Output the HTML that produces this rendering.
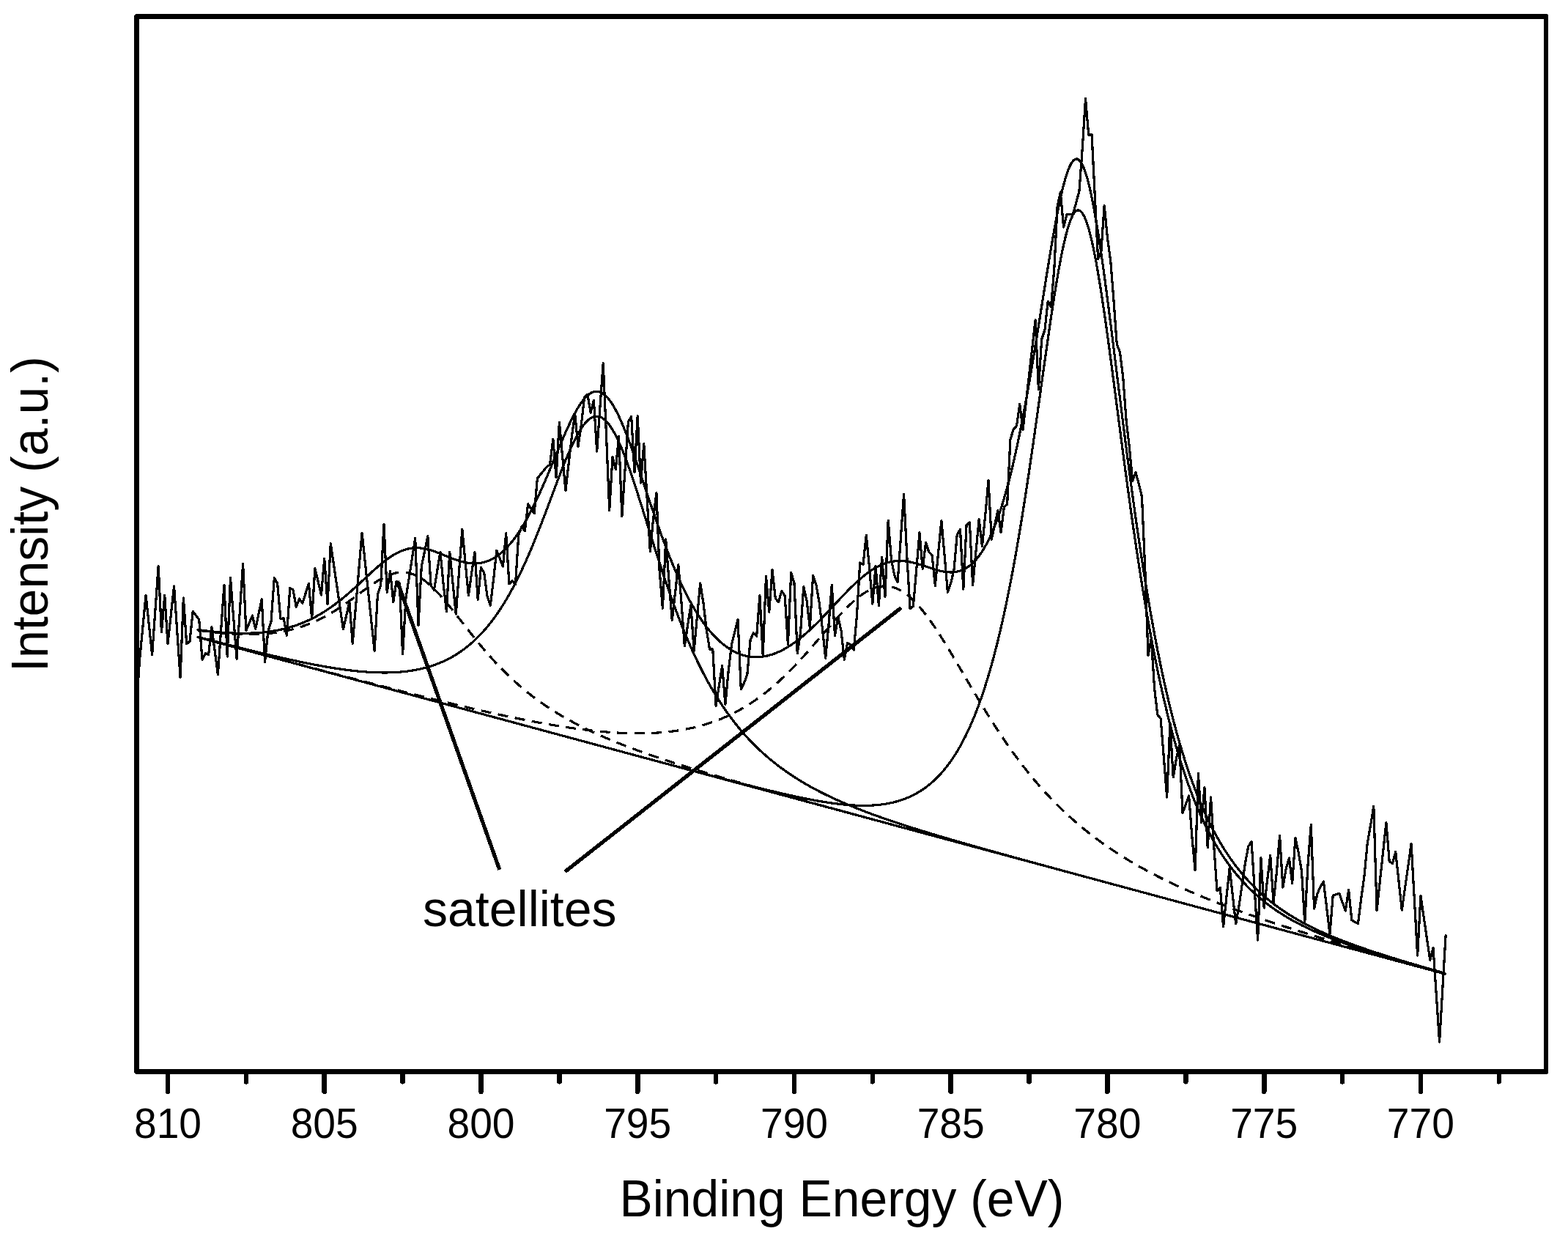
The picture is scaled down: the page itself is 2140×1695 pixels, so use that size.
<!DOCTYPE html>
<html><head><meta charset="utf-8"><title>XPS spectrum</title>
<style>
html,body{margin:0;padding:0;background:#fff;}
svg{display:block;}
</style></head>
<body>
<svg xmlns="http://www.w3.org/2000/svg" width="2140" height="1695" viewBox="0 0 2140 1695" shape-rendering="crispEdges">
<rect x="0" y="0" width="2140" height="1695" fill="#fff"/>
<g fill="none" stroke="#000" stroke-linejoin="round" stroke-linecap="round">
<path d="M270.0,869.70 L1972.0,1329.07" stroke-width="3.2"/>
<path d="M270.0,859.98 L272.0,860.27 L274.0,860.56 L276.0,860.84 L278.0,861.12 L280.0,861.39 L282.0,861.65 L284.0,861.91 L286.0,862.16 L288.0,862.40 L290.0,862.64 L292.0,862.87 L294.0,863.09 L296.0,863.31 L298.0,863.51 L300.0,863.71 L302.0,863.90 L304.0,864.09 L306.0,864.26 L308.0,864.43 L310.0,864.59 L312.0,864.73 L314.0,864.87 L316.0,865.00 L318.0,865.12 L320.0,865.23 L322.0,865.34 L324.0,865.43 L326.0,865.51 L328.0,865.58 L330.0,865.63 L332.0,865.68 L334.0,865.72 L336.0,865.74 L338.0,865.75 L340.0,865.75 L342.0,865.74 L344.0,865.72 L346.0,865.68 L348.0,865.63 L350.0,865.56 L352.0,865.48 L354.0,865.39 L356.0,865.29 L358.0,865.16 L360.0,865.03 L362.0,864.87 L364.0,864.71 L366.0,864.52 L368.0,864.32 L370.0,864.10 L372.0,863.87 L374.0,863.62 L376.0,863.35 L378.0,863.06 L380.0,862.76 L382.0,862.43 L384.0,862.09 L386.0,861.72 L388.0,861.34 L390.0,860.94 L392.0,860.51 L394.0,860.07 L396.0,859.60 L398.0,859.11 L400.0,858.60 L402.0,858.07 L404.0,857.51 L406.0,856.94 L408.0,856.33 L410.0,855.71 L412.0,855.06 L414.0,854.38 L416.0,853.68 L418.0,852.96 L420.0,852.21 L422.0,851.44 L424.0,850.64 L426.0,849.81 L428.0,848.96 L430.0,848.08 L432.0,847.17 L434.0,846.24 L436.0,845.28 L438.0,844.29 L440.0,843.28 L442.0,842.24 L444.0,841.17 L446.0,840.08 L448.0,838.96 L450.0,837.82 L452.0,836.65 L454.0,835.45 L456.0,834.23 L458.0,832.99 L460.0,831.72 L462.0,830.43 L464.0,829.11 L466.0,827.78 L468.0,826.42 L470.0,825.05 L472.0,823.66 L474.0,822.25 L476.0,820.82 L478.0,819.38 L480.0,817.93 L482.0,816.47 L484.0,815.00 L486.0,813.53 L488.0,812.05 L490.0,810.56 L492.0,809.08 L494.0,807.60 L496.0,806.13 L498.0,804.67 L500.0,803.21 L502.0,801.78 L504.0,800.36 L506.0,798.96 L508.0,797.58 L510.0,796.24 L512.0,794.93 L514.0,793.65 L516.0,792.41 L518.0,791.22 L520.0,790.07 L522.0,788.97 L524.0,787.93 L526.0,786.95 L528.0,786.03 L530.0,785.18 L532.0,784.39 L534.0,783.68 L536.0,783.05 L538.0,782.50 L540.0,782.03 L542.0,781.65 L544.0,781.36 L546.0,781.16 L548.0,781.05 L550.0,781.04 L552.0,781.12 L554.0,781.31 L556.0,781.59 L558.0,781.98 L560.0,782.47 L562.0,783.06 L564.0,783.75 L566.0,784.54 L568.0,785.43 L570.0,786.43 L572.0,787.52 L574.0,788.70 L576.0,789.98 L578.0,791.35 L580.0,792.81 L582.0,794.36 L584.0,795.99 L586.0,797.70 L588.0,799.48 L590.0,801.35 L592.0,803.28 L594.0,805.27 L596.0,807.34 L598.0,809.46 L600.0,811.63 L602.0,813.86 L604.0,816.13 L606.0,818.45 L608.0,820.80 L610.0,823.19 L612.0,825.62 L614.0,828.07 L616.0,830.55 L618.0,833.05 L620.0,835.56 L622.0,838.10 L624.0,840.64 L626.0,843.19 L628.0,845.75 L630.0,848.31 L632.0,850.87 L634.0,853.43 L636.0,855.99 L638.0,858.54 L640.0,861.08 L642.0,863.61 L644.0,866.13 L646.0,868.63 L648.0,871.12 L650.0,873.60 L652.0,876.05 L654.0,878.49 L656.0,880.90 L658.0,883.29 L660.0,885.67 L662.0,888.01 L664.0,890.34 L666.0,892.64 L668.0,894.92 L670.0,897.17 L672.0,899.39 L674.0,901.59 L676.0,903.76 L678.0,905.91 L680.0,908.03 L682.0,910.12 L684.0,912.19 L686.0,914.22 L688.0,916.24 L690.0,918.22 L692.0,920.18 L694.0,922.12 L696.0,924.02 L698.0,925.90 L700.0,927.76 L702.0,929.59 L704.0,931.39 L706.0,933.17 L708.0,934.93 L710.0,936.66 L712.0,938.36 L714.0,940.04 L716.0,941.70 L718.0,943.34 L720.0,944.95 L722.0,946.54 L724.0,948.11 L726.0,949.66 L728.0,951.18 L730.0,952.68 L732.0,954.17 L734.0,955.63 L736.0,957.07 L738.0,958.50 L740.0,959.90 L742.0,961.29 L744.0,962.66 L746.0,964.01 L748.0,965.34 L750.0,966.65 L752.0,967.95 L754.0,969.23 L756.0,970.49 L758.0,971.74 L760.0,972.97 L762.0,974.19 L764.0,975.39 L766.0,976.58 L768.0,977.75 L770.0,978.91 L772.0,980.05 L774.0,981.19 L776.0,982.30 L778.0,983.41 L780.0,984.50 L782.0,985.58 L784.0,986.65 L786.0,987.70 L788.0,988.75 L790.0,989.78 L792.0,990.80 L794.0,991.81 L796.0,992.81 L798.0,993.80 L800.0,994.78 L802.0,995.75 L804.0,996.71 L806.0,997.66 L808.0,998.60 L810.0,999.53 L812.0,1000.45 L814.0,1001.36 L816.0,1002.27 L818.0,1003.17 L820.0,1004.05 L822.0,1004.93 L824.0,1005.81 L826.0,1006.67 L828.0,1007.53 L830.0,1008.38 L832.0,1009.22 L834.0,1010.06 L836.0,1010.89 L838.0,1011.71 L840.0,1012.53 L842.0,1013.34 L844.0,1014.14 L846.0,1014.94 L848.0,1015.73 L850.0,1016.51 L852.0,1017.29 L854.0,1018.07 L856.0,1018.84 L858.0,1019.60 L860.0,1020.36 L862.0,1021.11 L864.0,1021.86 L866.0,1022.60 L868.0,1023.34 L870.0,1024.08 L872.0,1024.80 L874.0,1025.53 L876.0,1026.25 L878.0,1026.97 L880.0,1027.68 L882.0,1028.39 L884.0,1029.09 L886.0,1029.79 L888.0,1030.49 L890.0,1031.18 L892.0,1031.87 L894.0,1032.55 L896.0,1033.23 L898.0,1033.91 L900.0,1034.59 L902.0,1035.26 L904.0,1035.93 L906.0,1036.59 L908.0,1037.26 L910.0,1037.92 L912.0,1038.57 L914.0,1039.23 L916.0,1039.88 L918.0,1040.53 L920.0,1041.17 L922.0,1041.82 L924.0,1042.46 L926.0,1043.10 L928.0,1043.73 L930.0,1044.36 L932.0,1045.00 L934.0,1045.62 L936.0,1046.25 L938.0,1046.88 L940.0,1047.50 L942.0,1048.12 L944.0,1048.74 L946.0,1049.35 L948.0,1049.97 L950.0,1050.58 L952.0,1051.19 L954.0,1051.80 L956.0,1052.41 L958.0,1053.02 L960.0,1053.62 L962.0,1054.22 L964.0,1054.82 L966.0,1055.42 L968.0,1056.02 L970.0,1056.62 L972.0,1057.21 L974.0,1057.80 L976.0,1058.40 L978.0,1058.99 L980.0,1059.58 L982.0,1060.17 L984.0,1060.75 L986.0,1061.34 L988.0,1061.92 L990.0,1062.51 L992.0,1063.09 L994.0,1063.67 L996.0,1064.25 L998.0,1064.83 L1000.0,1065.41 L1002.0,1065.98 L1004.0,1066.56 L1006.0,1067.14 L1008.0,1067.71 L1010.0,1068.28 L1012.0,1068.85 L1014.0,1069.43 L1016.0,1070.00 L1018.0,1070.57 L1020.0,1071.14 L1022.0,1071.70 L1024.0,1072.27 L1026.0,1072.84 L1028.0,1073.40 L1030.0,1073.97 L1032.0,1074.53 L1034.0,1075.10 L1036.0,1075.66 L1038.0,1076.22 L1040.0,1076.79 L1042.0,1077.35 L1044.0,1077.91 L1046.0,1078.47 L1048.0,1079.03 L1050.0,1079.59 L1052.0,1080.15 L1054.0,1080.70 L1056.0,1081.26 L1058.0,1081.82 L1060.0,1082.38 L1062.0,1082.93 L1064.0,1083.49 L1066.0,1084.04 L1068.0,1084.60 L1070.0,1085.15 L1072.0,1085.71 L1074.0,1086.26 L1076.0,1086.81 L1078.0,1087.37 L1080.0,1087.92 L1082.0,1088.47 L1084.0,1089.02 L1086.0,1089.57 L1088.0,1090.12 L1090.0,1090.68 L1092.0,1091.23 L1094.0,1091.78 L1096.0,1092.33 L1098.0,1092.88 L1100.0,1093.42 L1102.0,1093.97 L1104.0,1094.52 L1106.0,1095.07 L1108.0,1095.62 L1110.0,1096.17 L1112.0,1096.71 L1114.0,1097.26 L1116.0,1097.81 L1118.0,1098.36 L1120.0,1098.90 L1122.0,1099.45 L1124.0,1100.00 L1126.0,1100.54 L1128.0,1101.09 L1130.0,1101.63 L1132.0,1102.18 L1134.0,1102.72 L1136.0,1103.27 L1138.0,1103.82 L1140.0,1104.36 L1142.0,1104.91 L1144.0,1105.45 L1146.0,1105.99 L1148.0,1106.54 L1150.0,1107.08 L1152.0,1107.63 L1154.0,1108.17 L1156.0,1108.71 L1158.0,1109.26 L1160.0,1109.80 L1162.0,1110.35 L1164.0,1110.89 L1166.0,1111.43 L1168.0,1111.97 L1170.0,1112.52 L1172.0,1113.06 L1174.0,1113.60 L1176.0,1114.15 L1178.0,1114.69 L1180.0,1115.23 L1182.0,1115.77 L1184.0,1116.32 L1186.0,1116.86 L1188.0,1117.40 L1190.0,1117.94 L1192.0,1118.48 L1194.0,1119.03 L1196.0,1119.57 L1198.0,1120.11 L1200.0,1120.65 L1202.0,1121.19 L1204.0,1121.74 L1206.0,1122.28 L1208.0,1122.82 L1210.0,1123.36 L1212.0,1123.90 L1214.0,1124.44 L1216.0,1124.98 L1218.0,1125.53 L1220.0,1126.07 L1222.0,1126.61 L1224.0,1127.15 L1226.0,1127.69 L1228.0,1128.23 L1230.0,1128.77 L1232.0,1129.31 L1234.0,1129.85 L1236.0,1130.39 L1238.0,1130.94 L1240.0,1131.48 L1242.0,1132.02 L1244.0,1132.56 L1246.0,1133.10 L1248.0,1133.64 L1250.0,1134.18 L1252.0,1134.72 L1254.0,1135.26 L1256.0,1135.80 L1258.0,1136.34 L1260.0,1136.88 L1262.0,1137.42 L1264.0,1137.96 L1266.0,1138.50 L1268.0,1139.04 L1270.0,1139.58 L1272.0,1140.13 L1274.0,1140.67 L1276.0,1141.21 L1278.0,1141.75 L1280.0,1142.29 L1282.0,1142.83 L1284.0,1143.37 L1286.0,1143.91 L1288.0,1144.45 L1290.0,1144.99 L1292.0,1145.53 L1294.0,1146.07 L1296.0,1146.61 L1298.0,1147.15 L1300.0,1147.69 L1302.0,1148.23 L1304.0,1148.77 L1306.0,1149.31 L1308.0,1149.85 L1310.0,1150.39 L1312.0,1150.93 L1314.0,1151.47 L1316.0,1152.01 L1318.0,1152.55 L1320.0,1153.09 L1322.0,1153.63 L1324.0,1154.17 L1326.0,1154.71 L1328.0,1155.25 L1330.0,1155.79 L1332.0,1156.33 L1334.0,1156.87 L1336.0,1157.41 L1338.0,1157.95 L1340.0,1158.49 L1342.0,1159.03 L1344.0,1159.57 L1346.0,1160.11 L1348.0,1160.65 L1350.0,1161.19 L1352.0,1161.73 L1354.0,1162.27 L1356.0,1162.81 L1358.0,1163.35 L1360.0,1163.89 L1362.0,1164.43 L1364.0,1164.97 L1366.0,1165.51 L1368.0,1166.05 L1370.0,1166.59 L1372.0,1167.13 L1374.0,1167.67 L1376.0,1168.21 L1378.0,1168.75 L1380.0,1169.29 L1382.0,1169.83 L1384.0,1170.37 L1386.0,1170.91 L1388.0,1171.45 L1390.0,1171.99 L1392.0,1172.53 L1394.0,1173.07 L1396.0,1173.61 L1398.0,1174.15 L1400.0,1174.69 L1402.0,1175.23 L1404.0,1175.77 L1406.0,1176.31 L1408.0,1176.85 L1410.0,1177.39 L1412.0,1177.92 L1414.0,1178.46 L1416.0,1179.00 L1418.0,1179.54 L1420.0,1180.08 L1422.0,1180.62 L1424.0,1181.16 L1426.0,1181.70 L1428.0,1182.24 L1430.0,1182.78 L1432.0,1183.32 L1434.0,1183.86 L1436.0,1184.40 L1438.0,1184.94 L1440.0,1185.48 L1442.0,1186.02 L1444.0,1186.56 L1446.0,1187.10 L1448.0,1187.64 L1450.0,1188.18 L1452.0,1188.72 L1454.0,1189.26 L1456.0,1189.80 L1458.0,1190.34 L1460.0,1190.88 L1462.0,1191.42 L1464.0,1191.96 L1466.0,1192.50 L1468.0,1193.04 L1470.0,1193.58 L1472.0,1194.12 L1474.0,1194.66 L1476.0,1195.20 L1478.0,1195.74 L1480.0,1196.28 L1482.0,1196.82 L1484.0,1197.36 L1486.0,1197.90 L1488.0,1198.44 L1490.0,1198.98 L1492.0,1199.52 L1494.0,1200.06 L1496.0,1200.60 L1498.0,1201.14 L1500.0,1201.68 L1502.0,1202.22 L1504.0,1202.76 L1506.0,1203.30 L1508.0,1203.84 L1510.0,1204.38 L1512.0,1204.92 L1514.0,1205.46 L1516.0,1206.00 L1518.0,1206.54 L1520.0,1207.07 L1522.0,1207.61 L1524.0,1208.15 L1526.0,1208.69 L1528.0,1209.23 L1530.0,1209.77 L1532.0,1210.31 L1534.0,1210.85 L1536.0,1211.39 L1538.0,1211.93 L1540.0,1212.47 L1542.0,1213.01 L1544.0,1213.55 L1546.0,1214.09 L1548.0,1214.63 L1550.0,1215.17 L1552.0,1215.71 L1554.0,1216.25 L1556.0,1216.79 L1558.0,1217.33 L1560.0,1217.87 L1562.0,1218.41 L1564.0,1218.95 L1566.0,1219.49 L1568.0,1220.03 L1570.0,1220.57 L1572.0,1221.11 L1574.0,1221.65 L1576.0,1222.19 L1578.0,1222.73 L1580.0,1223.27 L1582.0,1223.81 L1584.0,1224.35 L1586.0,1224.89 L1588.0,1225.43 L1590.0,1225.97 L1592.0,1226.51 L1594.0,1227.05 L1596.0,1227.59 L1598.0,1228.13 L1600.0,1228.67 L1602.0,1229.21 L1604.0,1229.75 L1606.0,1230.29 L1608.0,1230.83 L1610.0,1231.37 L1612.0,1231.91 L1614.0,1232.45 L1616.0,1232.99 L1618.0,1233.53 L1620.0,1234.06 L1622.0,1234.60 L1624.0,1235.14 L1626.0,1235.68 L1628.0,1236.22 L1630.0,1236.76 L1632.0,1237.30 L1634.0,1237.84 L1636.0,1238.38 L1638.0,1238.92 L1640.0,1239.46 L1642.0,1240.00 L1644.0,1240.54 L1646.0,1241.08 L1648.0,1241.62 L1650.0,1242.16 L1652.0,1242.70 L1654.0,1243.24 L1656.0,1243.78 L1658.0,1244.32 L1660.0,1244.86 L1662.0,1245.40 L1664.0,1245.94 L1666.0,1246.48 L1668.0,1247.02 L1670.0,1247.56 L1672.0,1248.10 L1674.0,1248.64 L1676.0,1249.18 L1678.0,1249.72 L1680.0,1250.26 L1682.0,1250.80 L1684.0,1251.34 L1686.0,1251.88 L1688.0,1252.42 L1690.0,1252.96 L1692.0,1253.50 L1694.0,1254.04 L1696.0,1254.58 L1698.0,1255.12 L1700.0,1255.66 L1702.0,1256.20 L1704.0,1256.74 L1706.0,1257.28 L1708.0,1257.82 L1710.0,1258.36 L1712.0,1258.90 L1714.0,1259.44 L1716.0,1259.98 L1718.0,1260.52 L1720.0,1261.05 L1722.0,1261.59 L1724.0,1262.13 L1726.0,1262.67 L1728.0,1263.21 L1730.0,1263.75 L1732.0,1264.29 L1734.0,1264.83 L1736.0,1265.37 L1738.0,1265.91 L1740.0,1266.45 L1742.0,1266.99 L1744.0,1267.53 L1746.0,1268.07 L1748.0,1268.61 L1750.0,1269.15 L1752.0,1269.69 L1754.0,1270.23 L1756.0,1270.77 L1758.0,1271.31 L1760.0,1271.85 L1762.0,1272.39 L1764.0,1272.93 L1766.0,1273.47 L1768.0,1274.01 L1770.0,1274.55 L1772.0,1275.09 L1774.0,1275.63 L1776.0,1276.17 L1778.0,1276.71 L1780.0,1277.25 L1782.0,1277.79 L1784.0,1278.33 L1786.0,1278.87 L1788.0,1279.41 L1790.0,1279.95 L1792.0,1280.49 L1794.0,1281.03 L1796.0,1281.57 L1798.0,1282.11 L1800.0,1282.65 L1802.0,1283.19 L1804.0,1283.73 L1806.0,1284.27 L1808.0,1284.81 L1810.0,1285.35 L1812.0,1285.89 L1814.0,1286.43 L1816.0,1286.97 L1818.0,1287.51 L1820.0,1288.04 L1822.0,1288.58 L1824.0,1289.12 L1826.0,1289.66 L1828.0,1290.20 L1830.0,1290.74 L1832.0,1291.28 L1834.0,1291.82 L1836.0,1292.36 L1838.0,1292.90 L1840.0,1293.44 L1842.0,1293.98 L1844.0,1294.52 L1846.0,1295.06 L1848.0,1295.60 L1850.0,1296.14 L1852.0,1296.68 L1854.0,1297.22 L1856.0,1297.76 L1858.0,1298.30 L1860.0,1298.84 L1862.0,1299.38 L1864.0,1299.92 L1866.0,1300.46 L1868.0,1301.00 L1870.0,1301.54 L1872.0,1302.08 L1874.0,1302.62 L1876.0,1303.16 L1878.0,1303.70 L1880.0,1304.24 L1882.0,1304.78 L1884.0,1305.32 L1886.0,1305.86 L1888.0,1306.40 L1890.0,1306.94 L1892.0,1307.48 L1894.0,1308.02 L1896.0,1308.56 L1898.0,1309.10 L1900.0,1309.64 L1902.0,1310.18 L1904.0,1310.72 L1906.0,1311.26 L1908.0,1311.80 L1910.0,1312.34 L1912.0,1312.88 L1914.0,1313.42 L1916.0,1313.96 L1918.0,1314.50 L1920.0,1315.03 L1922.0,1315.57 L1924.0,1316.11 L1926.0,1316.65 L1928.0,1317.19 L1930.0,1317.73 L1932.0,1318.27 L1934.0,1318.81 L1936.0,1319.35 L1938.0,1319.89 L1940.0,1320.43 L1942.0,1320.97 L1944.0,1321.51 L1946.0,1322.05 L1948.0,1322.59 L1950.0,1323.13 L1952.0,1323.67 L1954.0,1324.21 L1956.0,1324.75 L1958.0,1325.29 L1960.0,1325.83 L1962.0,1326.37 L1964.0,1326.91 L1966.0,1327.45 L1968.0,1327.99 L1970.0,1328.53 L1972.0,1329.07" stroke-width="3.2" stroke-dasharray="14 9.5" stroke-linecap="butt"/>
<path d="M270.0,869.65 L272.0,870.19 L274.0,870.72 L276.0,871.26 L278.0,871.80 L280.0,872.34 L282.0,872.88 L284.0,873.41 L286.0,873.95 L288.0,874.49 L290.0,875.03 L292.0,875.57 L294.0,876.10 L296.0,876.64 L298.0,877.18 L300.0,877.72 L302.0,878.26 L304.0,878.79 L306.0,879.33 L308.0,879.87 L310.0,880.41 L312.0,880.94 L314.0,881.48 L316.0,882.02 L318.0,882.56 L320.0,883.09 L322.0,883.63 L324.0,884.17 L326.0,884.71 L328.0,885.24 L330.0,885.78 L332.0,886.32 L334.0,886.85 L336.0,887.39 L338.0,887.93 L340.0,888.46 L342.0,889.00 L344.0,889.54 L346.0,890.07 L348.0,890.61 L350.0,891.14 L352.0,891.68 L354.0,892.22 L356.0,892.75 L358.0,893.29 L360.0,893.82 L362.0,894.36 L364.0,894.90 L366.0,895.43 L368.0,895.97 L370.0,896.50 L372.0,897.04 L374.0,897.57 L376.0,898.11 L378.0,898.64 L380.0,899.18 L382.0,899.71 L384.0,900.25 L386.0,900.78 L388.0,901.31 L390.0,901.85 L392.0,902.38 L394.0,902.92 L396.0,903.45 L398.0,903.98 L400.0,904.52 L402.0,905.05 L404.0,905.58 L406.0,906.12 L408.0,906.65 L410.0,907.18 L412.0,907.71 L414.0,908.25 L416.0,908.78 L418.0,909.31 L420.0,909.84 L422.0,910.37 L424.0,910.91 L426.0,911.44 L428.0,911.97 L430.0,912.50 L432.0,913.03 L434.0,913.56 L436.0,914.09 L438.0,914.62 L440.0,915.15 L442.0,915.68 L444.0,916.21 L446.0,916.74 L448.0,917.27 L450.0,917.80 L452.0,918.33 L454.0,918.85 L456.0,919.38 L458.0,919.91 L460.0,920.44 L462.0,920.97 L464.0,921.49 L466.0,922.02 L468.0,922.55 L470.0,923.07 L472.0,923.60 L474.0,924.12 L476.0,924.65 L478.0,925.17 L480.0,925.70 L482.0,926.22 L484.0,926.75 L486.0,927.27 L488.0,927.79 L490.0,928.32 L492.0,928.84 L494.0,929.36 L496.0,929.88 L498.0,930.41 L500.0,930.93 L502.0,931.45 L504.0,931.97 L506.0,932.49 L508.0,933.01 L510.0,933.53 L512.0,934.05 L514.0,934.57 L516.0,935.08 L518.0,935.60 L520.0,936.12 L522.0,936.63 L524.0,937.15 L526.0,937.67 L528.0,938.18 L530.0,938.70 L532.0,939.21 L534.0,939.72 L536.0,940.24 L538.0,940.75 L540.0,941.26 L542.0,941.77 L544.0,942.28 L546.0,942.80 L548.0,943.30 L550.0,943.81 L552.0,944.32 L554.0,944.83 L556.0,945.34 L558.0,945.84 L560.0,946.35 L562.0,946.86 L564.0,947.36 L566.0,947.86 L568.0,948.37 L570.0,948.87 L572.0,949.37 L574.0,949.87 L576.0,950.37 L578.0,950.87 L580.0,951.37 L582.0,951.87 L584.0,952.37 L586.0,952.86 L588.0,953.36 L590.0,953.85 L592.0,954.35 L594.0,954.84 L596.0,955.33 L598.0,955.82 L600.0,956.31 L602.0,956.80 L604.0,957.29 L606.0,957.78 L608.0,958.26 L610.0,958.75 L612.0,959.23 L614.0,959.72 L616.0,960.20 L618.0,960.68 L620.0,961.16 L622.0,961.64 L624.0,962.12 L626.0,962.59 L628.0,963.07 L630.0,963.54 L632.0,964.01 L634.0,964.48 L636.0,964.95 L638.0,965.42 L640.0,965.89 L642.0,966.36 L644.0,966.82 L646.0,967.29 L648.0,967.75 L650.0,968.21 L652.0,968.67 L654.0,969.12 L656.0,969.58 L658.0,970.04 L660.0,970.49 L662.0,970.94 L664.0,971.39 L666.0,971.84 L668.0,972.28 L670.0,972.73 L672.0,973.17 L674.0,973.61 L676.0,974.05 L678.0,974.49 L680.0,974.93 L682.0,975.36 L684.0,975.79 L686.0,976.22 L688.0,976.65 L690.0,977.08 L692.0,977.50 L694.0,977.92 L696.0,978.34 L698.0,978.76 L700.0,979.17 L702.0,979.59 L704.0,980.00 L706.0,980.41 L708.0,980.81 L710.0,981.22 L712.0,981.62 L714.0,982.02 L716.0,982.41 L718.0,982.81 L720.0,983.20 L722.0,983.59 L724.0,983.98 L726.0,984.36 L728.0,984.74 L730.0,985.12 L732.0,985.49 L734.0,985.86 L736.0,986.23 L738.0,986.60 L740.0,986.96 L742.0,987.32 L744.0,987.68 L746.0,988.03 L748.0,988.38 L750.0,988.73 L752.0,989.07 L754.0,989.41 L756.0,989.75 L758.0,990.08 L760.0,990.41 L762.0,990.74 L764.0,991.06 L766.0,991.38 L768.0,991.70 L770.0,992.01 L772.0,992.31 L774.0,992.62 L776.0,992.92 L778.0,993.21 L780.0,993.50 L782.0,993.79 L784.0,994.07 L786.0,994.35 L788.0,994.62 L790.0,994.89 L792.0,995.15 L794.0,995.41 L796.0,995.66 L798.0,995.91 L800.0,996.16 L802.0,996.40 L804.0,996.63 L806.0,996.86 L808.0,997.08 L810.0,997.30 L812.0,997.51 L814.0,997.72 L816.0,997.92 L818.0,998.12 L820.0,998.31 L822.0,998.49 L824.0,998.67 L826.0,998.84 L828.0,999.00 L830.0,999.16 L832.0,999.32 L834.0,999.46 L836.0,999.60 L838.0,999.74 L840.0,999.86 L842.0,999.98 L844.0,1000.09 L846.0,1000.20 L848.0,1000.29 L850.0,1000.38 L852.0,1000.47 L854.0,1000.54 L856.0,1000.61 L858.0,1000.67 L860.0,1000.72 L862.0,1000.76 L864.0,1000.79 L866.0,1000.82 L868.0,1000.84 L870.0,1000.84 L872.0,1000.84 L874.0,1000.83 L876.0,1000.81 L878.0,1000.79 L880.0,1000.75 L882.0,1000.70 L884.0,1000.64 L886.0,1000.58 L888.0,1000.50 L890.0,1000.41 L892.0,1000.31 L894.0,1000.21 L896.0,1000.09 L898.0,999.96 L900.0,999.81 L902.0,999.66 L904.0,999.50 L906.0,999.32 L908.0,999.13 L910.0,998.93 L912.0,998.72 L914.0,998.50 L916.0,998.26 L918.0,998.01 L920.0,997.75 L922.0,997.47 L924.0,997.18 L926.0,996.88 L928.0,996.56 L930.0,996.23 L932.0,995.88 L934.0,995.52 L936.0,995.14 L938.0,994.75 L940.0,994.35 L942.0,993.93 L944.0,993.49 L946.0,993.04 L948.0,992.57 L950.0,992.08 L952.0,991.58 L954.0,991.06 L956.0,990.53 L958.0,989.97 L960.0,989.40 L962.0,988.81 L964.0,988.21 L966.0,987.58 L968.0,986.94 L970.0,986.27 L972.0,985.59 L974.0,984.89 L976.0,984.16 L978.0,983.42 L980.0,982.66 L982.0,981.88 L984.0,981.07 L986.0,980.25 L988.0,979.40 L990.0,978.53 L992.0,977.64 L994.0,976.73 L996.0,975.79 L998.0,974.84 L1000.0,973.86 L1002.0,972.85 L1004.0,971.82 L1006.0,970.77 L1008.0,969.70 L1010.0,968.60 L1012.0,967.47 L1014.0,966.32 L1016.0,965.15 L1018.0,963.95 L1020.0,962.72 L1022.0,961.47 L1024.0,960.19 L1026.0,958.89 L1028.0,957.56 L1030.0,956.20 L1032.0,954.82 L1034.0,953.41 L1036.0,951.97 L1038.0,950.51 L1040.0,949.02 L1042.0,947.50 L1044.0,945.96 L1046.0,944.38 L1048.0,942.78 L1050.0,941.15 L1052.0,939.50 L1054.0,937.82 L1056.0,936.11 L1058.0,934.37 L1060.0,932.60 L1062.0,930.81 L1064.0,928.99 L1066.0,927.14 L1068.0,925.27 L1070.0,923.37 L1072.0,921.45 L1074.0,919.50 L1076.0,917.52 L1078.0,915.52 L1080.0,913.50 L1082.0,911.45 L1084.0,909.38 L1086.0,907.28 L1088.0,905.17 L1090.0,903.03 L1092.0,900.87 L1094.0,898.69 L1096.0,896.50 L1098.0,894.28 L1100.0,892.05 L1102.0,889.80 L1104.0,887.54 L1106.0,885.27 L1108.0,882.98 L1110.0,880.68 L1112.0,878.37 L1114.0,876.06 L1116.0,873.74 L1118.0,871.41 L1120.0,869.08 L1122.0,866.75 L1124.0,864.42 L1126.0,862.10 L1128.0,859.78 L1130.0,857.46 L1132.0,855.16 L1134.0,852.86 L1136.0,850.58 L1138.0,848.31 L1140.0,846.07 L1142.0,843.84 L1144.0,841.63 L1146.0,839.46 L1148.0,837.31 L1150.0,835.19 L1152.0,833.11 L1154.0,831.06 L1156.0,829.05 L1158.0,827.09 L1160.0,825.17 L1162.0,823.30 L1164.0,821.48 L1166.0,819.71 L1168.0,818.00 L1170.0,816.35 L1172.0,814.77 L1174.0,813.25 L1176.0,811.80 L1178.0,810.41 L1180.0,809.11 L1182.0,807.88 L1184.0,806.73 L1186.0,805.66 L1188.0,804.67 L1190.0,803.77 L1192.0,802.96 L1194.0,802.25 L1196.0,801.62 L1198.0,801.09 L1200.0,800.65 L1202.0,800.31 L1204.0,800.08 L1206.0,799.94 L1208.0,799.90 L1210.0,799.97 L1212.0,800.14 L1214.0,800.41 L1216.0,800.79 L1218.0,801.28 L1220.0,801.87 L1222.0,802.56 L1224.0,803.36 L1226.0,804.26 L1228.0,805.26 L1230.0,806.37 L1232.0,807.58 L1234.0,808.89 L1236.0,810.30 L1238.0,811.81 L1240.0,813.42 L1242.0,815.12 L1244.0,816.91 L1246.0,818.79 L1248.0,820.76 L1250.0,822.82 L1252.0,824.97 L1254.0,827.19 L1256.0,829.50 L1258.0,831.88 L1260.0,834.33 L1262.0,836.86 L1264.0,839.45 L1266.0,842.12 L1268.0,844.84 L1270.0,847.62 L1272.0,850.46 L1274.0,853.36 L1276.0,856.31 L1278.0,859.30 L1280.0,862.35 L1282.0,865.43 L1284.0,868.55 L1286.0,871.71 L1288.0,874.91 L1290.0,878.14 L1292.0,881.39 L1294.0,884.67 L1296.0,887.98 L1298.0,891.30 L1300.0,894.65 L1302.0,898.01 L1304.0,901.38 L1306.0,904.77 L1308.0,908.16 L1310.0,911.56 L1312.0,914.97 L1314.0,918.38 L1316.0,921.79 L1318.0,925.19 L1320.0,928.60 L1322.0,932.00 L1324.0,935.40 L1326.0,938.78 L1328.0,942.16 L1330.0,945.53 L1332.0,948.88 L1334.0,952.23 L1336.0,955.55 L1338.0,958.87 L1340.0,962.16 L1342.0,965.44 L1344.0,968.70 L1346.0,971.94 L1348.0,975.16 L1350.0,978.35 L1352.0,981.53 L1354.0,984.68 L1356.0,987.81 L1358.0,990.92 L1360.0,994.00 L1362.0,997.06 L1364.0,1000.09 L1366.0,1003.09 L1368.0,1006.07 L1370.0,1009.03 L1372.0,1011.96 L1374.0,1014.86 L1376.0,1017.73 L1378.0,1020.58 L1380.0,1023.40 L1382.0,1026.19 L1384.0,1028.95 L1386.0,1031.69 L1388.0,1034.40 L1390.0,1037.08 L1392.0,1039.74 L1394.0,1042.36 L1396.0,1044.96 L1398.0,1047.54 L1400.0,1050.08 L1402.0,1052.60 L1404.0,1055.09 L1406.0,1057.55 L1408.0,1059.99 L1410.0,1062.40 L1412.0,1064.79 L1414.0,1067.15 L1416.0,1069.48 L1418.0,1071.79 L1420.0,1074.07 L1422.0,1076.32 L1424.0,1078.55 L1426.0,1080.76 L1428.0,1082.94 L1430.0,1085.10 L1432.0,1087.23 L1434.0,1089.34 L1436.0,1091.43 L1438.0,1093.49 L1440.0,1095.53 L1442.0,1097.54 L1444.0,1099.54 L1446.0,1101.51 L1448.0,1103.46 L1450.0,1105.39 L1452.0,1107.29 L1454.0,1109.18 L1456.0,1111.04 L1458.0,1112.89 L1460.0,1114.71 L1462.0,1116.51 L1464.0,1118.29 L1466.0,1120.06 L1468.0,1121.80 L1470.0,1123.53 L1472.0,1125.24 L1474.0,1126.92 L1476.0,1128.59 L1478.0,1130.25 L1480.0,1131.88 L1482.0,1133.50 L1484.0,1135.10 L1486.0,1136.68 L1488.0,1138.24 L1490.0,1139.79 L1492.0,1141.33 L1494.0,1142.85 L1496.0,1144.35 L1498.0,1145.83 L1500.0,1147.30 L1502.0,1148.76 L1504.0,1150.20 L1506.0,1151.63 L1508.0,1153.04 L1510.0,1154.44 L1512.0,1155.82 L1514.0,1157.19 L1516.0,1158.55 L1518.0,1159.89 L1520.0,1161.22 L1522.0,1162.54 L1524.0,1163.85 L1526.0,1165.14 L1528.0,1166.42 L1530.0,1167.69 L1532.0,1168.94 L1534.0,1170.19 L1536.0,1171.42 L1538.0,1172.64 L1540.0,1173.86 L1542.0,1175.06 L1544.0,1176.24 L1546.0,1177.42 L1548.0,1178.59 L1550.0,1179.75 L1552.0,1180.90 L1554.0,1182.03 L1556.0,1183.16 L1558.0,1184.28 L1560.0,1185.39 L1562.0,1186.49 L1564.0,1187.58 L1566.0,1188.66 L1568.0,1189.73 L1570.0,1190.79 L1572.0,1191.85 L1574.0,1192.89 L1576.0,1193.93 L1578.0,1194.96 L1580.0,1195.98 L1582.0,1196.99 L1584.0,1198.00 L1586.0,1199.00 L1588.0,1199.99 L1590.0,1200.97 L1592.0,1201.95 L1594.0,1202.92 L1596.0,1203.88 L1598.0,1204.83 L1600.0,1205.78 L1602.0,1206.72 L1604.0,1207.65 L1606.0,1208.58 L1608.0,1209.50 L1610.0,1210.42 L1612.0,1211.32 L1614.0,1212.23 L1616.0,1213.12 L1618.0,1214.01 L1620.0,1214.90 L1622.0,1215.78 L1624.0,1216.65 L1626.0,1217.52 L1628.0,1218.38 L1630.0,1219.23 L1632.0,1220.09 L1634.0,1220.93 L1636.0,1221.77 L1638.0,1222.61 L1640.0,1223.44 L1642.0,1224.26 L1644.0,1225.09 L1646.0,1225.90 L1648.0,1226.71 L1650.0,1227.52 L1652.0,1228.32 L1654.0,1229.12 L1656.0,1229.92 L1658.0,1230.70 L1660.0,1231.49 L1662.0,1232.27 L1664.0,1233.05 L1666.0,1233.82 L1668.0,1234.59 L1670.0,1235.36 L1672.0,1236.12 L1674.0,1236.87 L1676.0,1237.63 L1678.0,1238.38 L1680.0,1239.12 L1682.0,1239.87 L1684.0,1240.61 L1686.0,1241.34 L1688.0,1242.08 L1690.0,1242.81 L1692.0,1243.53 L1694.0,1244.25 L1696.0,1244.97 L1698.0,1245.69 L1700.0,1246.40 L1702.0,1247.12 L1704.0,1247.82 L1706.0,1248.53 L1708.0,1249.23 L1710.0,1249.93 L1712.0,1250.63 L1714.0,1251.32 L1716.0,1252.01 L1718.0,1252.70 L1720.0,1253.38 L1722.0,1254.07 L1724.0,1254.75 L1726.0,1255.43 L1728.0,1256.10 L1730.0,1256.78 L1732.0,1257.45 L1734.0,1258.12 L1736.0,1258.78 L1738.0,1259.45 L1740.0,1260.11 L1742.0,1260.77 L1744.0,1261.43 L1746.0,1262.08 L1748.0,1262.74 L1750.0,1263.39 L1752.0,1264.04 L1754.0,1264.69 L1756.0,1265.33 L1758.0,1265.98 L1760.0,1266.62 L1762.0,1267.26 L1764.0,1267.90 L1766.0,1268.53 L1768.0,1269.17 L1770.0,1269.80 L1772.0,1270.43 L1774.0,1271.06 L1776.0,1271.69 L1778.0,1272.32 L1780.0,1272.94 L1782.0,1273.57 L1784.0,1274.19 L1786.0,1274.81 L1788.0,1275.43 L1790.0,1276.05 L1792.0,1276.66 L1794.0,1277.28 L1796.0,1277.89 L1798.0,1278.50 L1800.0,1279.11 L1802.0,1279.72 L1804.0,1280.33 L1806.0,1280.94 L1808.0,1281.54 L1810.0,1282.15 L1812.0,1282.75 L1814.0,1283.35 L1816.0,1283.96 L1818.0,1284.55 L1820.0,1285.15 L1822.0,1285.75 L1824.0,1286.35 L1826.0,1286.94 L1828.0,1287.54 L1830.0,1288.13 L1832.0,1288.72 L1834.0,1289.32 L1836.0,1289.91 L1838.0,1290.50 L1840.0,1291.08 L1842.0,1291.67 L1844.0,1292.26 L1846.0,1292.84 L1848.0,1293.43 L1850.0,1294.01 L1852.0,1294.60 L1854.0,1295.18 L1856.0,1295.76 L1858.0,1296.34 L1860.0,1296.92 L1862.0,1297.50 L1864.0,1298.08 L1866.0,1298.66 L1868.0,1299.24 L1870.0,1299.81 L1872.0,1300.39 L1874.0,1300.96 L1876.0,1301.54 L1878.0,1302.11 L1880.0,1302.68 L1882.0,1303.26 L1884.0,1303.83 L1886.0,1304.40 L1888.0,1304.97 L1890.0,1305.54 L1892.0,1306.11 L1894.0,1306.68 L1896.0,1307.24 L1898.0,1307.81 L1900.0,1308.38 L1902.0,1308.95 L1904.0,1309.51 L1906.0,1310.08 L1908.0,1310.64 L1910.0,1311.21 L1912.0,1311.77 L1914.0,1312.33 L1916.0,1312.90 L1918.0,1313.46 L1920.0,1314.02 L1922.0,1314.58 L1924.0,1315.14 L1926.0,1315.71 L1928.0,1316.27 L1930.0,1316.83 L1932.0,1317.39 L1934.0,1317.94 L1936.0,1318.50 L1938.0,1319.06 L1940.0,1319.62 L1942.0,1320.18 L1944.0,1320.73 L1946.0,1321.29 L1948.0,1321.85 L1950.0,1322.40 L1952.0,1322.96 L1954.0,1323.52 L1956.0,1324.07 L1958.0,1324.63 L1960.0,1325.18 L1962.0,1325.73 L1964.0,1326.29 L1966.0,1326.84 L1968.0,1327.40 L1970.0,1327.95 L1972.0,1328.50" stroke-width="3.2" stroke-dasharray="14 9.5" stroke-linecap="butt"/>
<path d="M270.0,869.24 L272.0,869.76 L274.0,870.29 L276.0,870.81 L278.0,871.33 L280.0,871.86 L282.0,872.38 L284.0,872.90 L286.0,873.42 L288.0,873.94 L290.0,874.46 L292.0,874.97 L294.0,875.49 L296.0,876.01 L298.0,876.52 L300.0,877.04 L302.0,877.55 L304.0,878.07 L306.0,878.58 L308.0,879.09 L310.0,879.60 L312.0,880.11 L314.0,880.62 L316.0,881.13 L318.0,881.64 L320.0,882.14 L322.0,882.65 L324.0,883.15 L326.0,883.66 L328.0,884.16 L330.0,884.66 L332.0,885.16 L334.0,885.66 L336.0,886.16 L338.0,886.65 L340.0,887.15 L342.0,887.64 L344.0,888.13 L346.0,888.62 L348.0,889.11 L350.0,889.60 L352.0,890.09 L354.0,890.57 L356.0,891.05 L358.0,891.54 L360.0,892.01 L362.0,892.49 L364.0,892.97 L366.0,893.44 L368.0,893.92 L370.0,894.39 L372.0,894.85 L374.0,895.32 L376.0,895.79 L378.0,896.25 L380.0,896.71 L382.0,897.16 L384.0,897.62 L386.0,898.07 L388.0,898.52 L390.0,898.97 L392.0,899.42 L394.0,899.86 L396.0,900.30 L398.0,900.74 L400.0,901.17 L402.0,901.60 L404.0,902.03 L406.0,902.46 L408.0,902.88 L410.0,903.30 L412.0,903.71 L414.0,904.13 L416.0,904.53 L418.0,904.94 L420.0,905.34 L422.0,905.74 L424.0,906.13 L426.0,906.52 L428.0,906.91 L430.0,907.29 L432.0,907.67 L434.0,908.04 L436.0,908.41 L438.0,908.77 L440.0,909.13 L442.0,909.48 L444.0,909.83 L446.0,910.18 L448.0,910.52 L450.0,910.85 L452.0,911.18 L454.0,911.50 L456.0,911.82 L458.0,912.13 L460.0,912.43 L462.0,912.73 L464.0,913.02 L466.0,913.31 L468.0,913.59 L470.0,913.86 L472.0,914.13 L474.0,914.39 L476.0,914.64 L478.0,914.88 L480.0,915.12 L482.0,915.34 L484.0,915.56 L486.0,915.78 L488.0,915.98 L490.0,916.17 L492.0,916.36 L494.0,916.54 L496.0,916.70 L498.0,916.86 L500.0,917.01 L502.0,917.15 L504.0,917.28 L506.0,917.39 L508.0,917.50 L510.0,917.60 L512.0,917.68 L514.0,917.75 L516.0,917.81 L518.0,917.86 L520.0,917.90 L522.0,917.92 L524.0,917.93 L526.0,917.93 L528.0,917.92 L530.0,917.89 L532.0,917.84 L534.0,917.78 L536.0,917.71 L538.0,917.62 L540.0,917.51 L542.0,917.39 L544.0,917.25 L546.0,917.10 L548.0,916.93 L550.0,916.74 L552.0,916.53 L554.0,916.30 L556.0,916.06 L558.0,915.79 L560.0,915.51 L562.0,915.20 L564.0,914.88 L566.0,914.53 L568.0,914.16 L570.0,913.77 L572.0,913.35 L574.0,912.91 L576.0,912.45 L578.0,911.96 L580.0,911.45 L582.0,910.91 L584.0,910.35 L586.0,909.75 L588.0,909.13 L590.0,908.48 L592.0,907.80 L594.0,907.10 L596.0,906.36 L598.0,905.59 L600.0,904.78 L602.0,903.95 L604.0,903.08 L606.0,902.17 L608.0,901.24 L610.0,900.26 L612.0,899.25 L614.0,898.20 L616.0,897.11 L618.0,895.98 L620.0,894.81 L622.0,893.60 L624.0,892.34 L626.0,891.05 L628.0,889.71 L630.0,888.32 L632.0,886.88 L634.0,885.40 L636.0,883.87 L638.0,882.29 L640.0,880.66 L642.0,878.98 L644.0,877.24 L646.0,875.45 L648.0,873.60 L650.0,871.70 L652.0,869.74 L654.0,867.72 L656.0,865.63 L658.0,863.49 L660.0,861.29 L662.0,859.02 L664.0,856.68 L666.0,854.28 L668.0,851.81 L670.0,849.27 L672.0,846.66 L674.0,843.98 L676.0,841.23 L678.0,838.41 L680.0,835.51 L682.0,832.53 L684.0,829.48 L686.0,826.35 L688.0,823.13 L690.0,819.85 L692.0,816.47 L694.0,813.02 L696.0,809.49 L698.0,805.87 L700.0,802.17 L702.0,798.39 L704.0,794.53 L706.0,790.58 L708.0,786.55 L710.0,782.43 L712.0,778.23 L714.0,773.95 L716.0,769.59 L718.0,765.15 L720.0,760.63 L722.0,756.03 L724.0,751.36 L726.0,746.61 L728.0,741.79 L730.0,736.91 L732.0,731.96 L734.0,726.95 L736.0,721.88 L738.0,716.75 L740.0,711.58 L742.0,706.37 L744.0,701.12 L746.0,695.84 L748.0,690.53 L750.0,685.20 L752.0,679.87 L754.0,674.53 L756.0,669.20 L758.0,663.88 L760.0,658.59 L762.0,653.33 L764.0,648.12 L766.0,642.97 L768.0,637.88 L770.0,632.88 L772.0,627.96 L774.0,623.15 L776.0,618.46 L778.0,613.90 L780.0,609.48 L782.0,605.21 L784.0,601.12 L786.0,597.20 L788.0,593.49 L790.0,589.98 L792.0,586.69 L794.0,583.63 L796.0,580.82 L798.0,578.26 L800.0,575.97 L802.0,573.96 L804.0,572.23 L806.0,570.79 L808.0,569.66 L810.0,568.82 L812.0,568.30 L814.0,568.09 L816.0,568.21 L818.0,568.63 L820.0,569.38 L822.0,570.45 L824.0,571.83 L826.0,573.53 L828.0,575.54 L830.0,577.85 L832.0,580.46 L834.0,583.36 L836.0,586.54 L838.0,589.99 L840.0,593.71 L842.0,597.67 L844.0,601.88 L846.0,606.32 L848.0,610.97 L850.0,615.83 L852.0,620.88 L854.0,626.11 L856.0,631.50 L858.0,637.05 L860.0,642.74 L862.0,648.55 L864.0,654.47 L866.0,660.49 L868.0,666.60 L870.0,672.79 L872.0,679.04 L874.0,685.35 L876.0,691.70 L878.0,698.08 L880.0,704.48 L882.0,710.89 L884.0,717.31 L886.0,723.72 L888.0,730.12 L890.0,736.50 L892.0,742.86 L894.0,749.18 L896.0,755.46 L898.0,761.69 L900.0,767.88 L902.0,774.01 L904.0,780.08 L906.0,786.09 L908.0,792.04 L910.0,797.91 L912.0,803.72 L914.0,809.45 L916.0,815.10 L918.0,820.68 L920.0,826.17 L922.0,831.59 L924.0,836.92 L926.0,842.18 L928.0,847.35 L930.0,852.43 L932.0,857.43 L934.0,862.35 L936.0,867.19 L938.0,871.94 L940.0,876.61 L942.0,881.20 L944.0,885.71 L946.0,890.13 L948.0,894.48 L950.0,898.74 L952.0,902.93 L954.0,907.04 L956.0,911.07 L958.0,915.03 L960.0,918.91 L962.0,922.72 L964.0,926.46 L966.0,930.12 L968.0,933.72 L970.0,937.25 L972.0,940.71 L974.0,944.10 L976.0,947.43 L978.0,950.70 L980.0,953.90 L982.0,957.04 L984.0,960.12 L986.0,963.15 L988.0,966.11 L990.0,969.02 L992.0,971.87 L994.0,974.67 L996.0,977.42 L998.0,980.12 L1000.0,982.76 L1002.0,985.36 L1004.0,987.90 L1006.0,990.40 L1008.0,992.85 L1010.0,995.26 L1012.0,997.62 L1014.0,999.94 L1016.0,1002.22 L1018.0,1004.46 L1020.0,1006.65 L1022.0,1008.81 L1024.0,1010.93 L1026.0,1013.01 L1028.0,1015.05 L1030.0,1017.06 L1032.0,1019.03 L1034.0,1020.97 L1036.0,1022.88 L1038.0,1024.75 L1040.0,1026.59 L1042.0,1028.40 L1044.0,1030.18 L1046.0,1031.93 L1048.0,1033.65 L1050.0,1035.34 L1052.0,1037.00 L1054.0,1038.64 L1056.0,1040.25 L1058.0,1041.84 L1060.0,1043.40 L1062.0,1044.93 L1064.0,1046.44 L1066.0,1047.93 L1068.0,1049.39 L1070.0,1050.84 L1072.0,1052.26 L1074.0,1053.66 L1076.0,1055.03 L1078.0,1056.39 L1080.0,1057.73 L1082.0,1059.05 L1084.0,1060.35 L1086.0,1061.63 L1088.0,1062.90 L1090.0,1064.14 L1092.0,1065.37 L1094.0,1066.58 L1096.0,1067.78 L1098.0,1068.96 L1100.0,1070.12 L1102.0,1071.27 L1104.0,1072.41 L1106.0,1073.53 L1108.0,1074.63 L1110.0,1075.72 L1112.0,1076.80 L1114.0,1077.86 L1116.0,1078.92 L1118.0,1079.96 L1120.0,1080.98 L1122.0,1082.00 L1124.0,1083.00 L1126.0,1083.99 L1128.0,1084.97 L1130.0,1085.94 L1132.0,1086.90 L1134.0,1087.85 L1136.0,1088.79 L1138.0,1089.72 L1140.0,1090.64 L1142.0,1091.54 L1144.0,1092.44 L1146.0,1093.34 L1148.0,1094.22 L1150.0,1095.09 L1152.0,1095.96 L1154.0,1096.81 L1156.0,1097.66 L1158.0,1098.50 L1160.0,1099.34 L1162.0,1100.16 L1164.0,1100.98 L1166.0,1101.80 L1168.0,1102.60 L1170.0,1103.40 L1172.0,1104.19 L1174.0,1104.98 L1176.0,1105.75 L1178.0,1106.53 L1180.0,1107.29 L1182.0,1108.06 L1184.0,1108.81 L1186.0,1109.56 L1188.0,1110.30 L1190.0,1111.04 L1192.0,1111.78 L1194.0,1112.51 L1196.0,1113.23 L1198.0,1113.95 L1200.0,1114.66 L1202.0,1115.37 L1204.0,1116.08 L1206.0,1116.78 L1208.0,1117.48 L1210.0,1118.17 L1212.0,1118.86 L1214.0,1119.54 L1216.0,1120.22 L1218.0,1120.90 L1220.0,1121.57 L1222.0,1122.24 L1224.0,1122.91 L1226.0,1123.57 L1228.0,1124.23 L1230.0,1124.89 L1232.0,1125.54 L1234.0,1126.19 L1236.0,1126.84 L1238.0,1127.48 L1240.0,1128.13 L1242.0,1128.77 L1244.0,1129.40 L1246.0,1130.03 L1248.0,1130.67 L1250.0,1131.29 L1252.0,1131.92 L1254.0,1132.54 L1256.0,1133.16 L1258.0,1133.78 L1260.0,1134.40 L1262.0,1135.01 L1264.0,1135.63 L1266.0,1136.24 L1268.0,1136.85 L1270.0,1137.45 L1272.0,1138.06 L1274.0,1138.66 L1276.0,1139.26 L1278.0,1139.86 L1280.0,1140.46 L1282.0,1141.06 L1284.0,1141.65 L1286.0,1142.24 L1288.0,1142.83 L1290.0,1143.42 L1292.0,1144.01 L1294.0,1144.60 L1296.0,1145.18 L1298.0,1145.77 L1300.0,1146.35 L1302.0,1146.93 L1304.0,1147.51 L1306.0,1148.09 L1308.0,1148.67 L1310.0,1149.25 L1312.0,1149.83 L1314.0,1150.40 L1316.0,1150.97 L1318.0,1151.55 L1320.0,1152.12 L1322.0,1152.69 L1324.0,1153.26 L1326.0,1153.83 L1328.0,1154.40 L1330.0,1154.96 L1332.0,1155.53 L1334.0,1156.10 L1336.0,1156.66 L1338.0,1157.23 L1340.0,1157.79 L1342.0,1158.35 L1344.0,1158.91 L1346.0,1159.48 L1348.0,1160.04 L1350.0,1160.60 L1352.0,1161.16 L1354.0,1161.72 L1356.0,1162.27 L1358.0,1162.83 L1360.0,1163.39 L1362.0,1163.94 L1364.0,1164.50 L1366.0,1165.06 L1368.0,1165.61 L1370.0,1166.17 L1372.0,1166.72 L1374.0,1167.27 L1376.0,1167.83 L1378.0,1168.38 L1380.0,1168.93 L1382.0,1169.48 L1384.0,1170.04 L1386.0,1170.59 L1388.0,1171.14 L1390.0,1171.69 L1392.0,1172.24 L1394.0,1172.79 L1396.0,1173.34 L1398.0,1173.89 L1400.0,1174.44 L1402.0,1174.98 L1404.0,1175.53 L1406.0,1176.08 L1408.0,1176.63 L1410.0,1177.18 L1412.0,1177.72 L1414.0,1178.27 L1416.0,1178.82 L1418.0,1179.36 L1420.0,1179.91 L1422.0,1180.46 L1424.0,1181.00 L1426.0,1181.55 L1428.0,1182.09 L1430.0,1182.64 L1432.0,1183.18 L1434.0,1183.73 L1436.0,1184.27 L1438.0,1184.82 L1440.0,1185.36 L1442.0,1185.91 L1444.0,1186.45 L1446.0,1186.99 L1448.0,1187.54 L1450.0,1188.08 L1452.0,1188.62 L1454.0,1189.17 L1456.0,1189.71 L1458.0,1190.25 L1460.0,1190.80 L1462.0,1191.34 L1464.0,1191.88 L1466.0,1192.43 L1468.0,1192.97 L1470.0,1193.51 L1472.0,1194.05 L1474.0,1194.60 L1476.0,1195.14 L1478.0,1195.68 L1480.0,1196.22 L1482.0,1196.76 L1484.0,1197.31 L1486.0,1197.85 L1488.0,1198.39 L1490.0,1198.93 L1492.0,1199.47 L1494.0,1200.01 L1496.0,1200.56 L1498.0,1201.10 L1500.0,1201.64 L1502.0,1202.18 L1504.0,1202.72 L1506.0,1203.26 L1508.0,1203.80 L1510.0,1204.34 L1512.0,1204.89 L1514.0,1205.43 L1516.0,1205.97 L1518.0,1206.51 L1520.0,1207.05 L1522.0,1207.59 L1524.0,1208.13 L1526.0,1208.67 L1528.0,1209.21 L1530.0,1209.75 L1532.0,1210.29 L1534.0,1210.83 L1536.0,1211.37 L1538.0,1211.92 L1540.0,1212.46 L1542.0,1213.00 L1544.0,1213.54 L1546.0,1214.08 L1548.0,1214.62 L1550.0,1215.16 L1552.0,1215.70 L1554.0,1216.24 L1556.0,1216.78 L1558.0,1217.32 L1560.0,1217.86 L1562.0,1218.40 L1564.0,1218.94 L1566.0,1219.48 L1568.0,1220.02 L1570.0,1220.56 L1572.0,1221.10 L1574.0,1221.64 L1576.0,1222.18 L1578.0,1222.72 L1580.0,1223.26 L1582.0,1223.80 L1584.0,1224.34 L1586.0,1224.88 L1588.0,1225.42 L1590.0,1225.96 L1592.0,1226.50 L1594.0,1227.04 L1596.0,1227.58 L1598.0,1228.12 L1600.0,1228.66 L1602.0,1229.20 L1604.0,1229.74 L1606.0,1230.28 L1608.0,1230.82 L1610.0,1231.36 L1612.0,1231.90 L1614.0,1232.44 L1616.0,1232.98 L1618.0,1233.52 L1620.0,1234.06 L1622.0,1234.60 L1624.0,1235.14 L1626.0,1235.68 L1628.0,1236.22 L1630.0,1236.76 L1632.0,1237.30 L1634.0,1237.84 L1636.0,1238.38 L1638.0,1238.92 L1640.0,1239.46 L1642.0,1240.00 L1644.0,1240.54 L1646.0,1241.08 L1648.0,1241.62 L1650.0,1242.16 L1652.0,1242.70 L1654.0,1243.24 L1656.0,1243.78 L1658.0,1244.32 L1660.0,1244.86 L1662.0,1245.40 L1664.0,1245.94 L1666.0,1246.48 L1668.0,1247.02 L1670.0,1247.56 L1672.0,1248.10 L1674.0,1248.64 L1676.0,1249.18 L1678.0,1249.72 L1680.0,1250.26 L1682.0,1250.80 L1684.0,1251.34 L1686.0,1251.88 L1688.0,1252.42 L1690.0,1252.96 L1692.0,1253.50 L1694.0,1254.04 L1696.0,1254.58 L1698.0,1255.12 L1700.0,1255.66 L1702.0,1256.20 L1704.0,1256.74 L1706.0,1257.28 L1708.0,1257.82 L1710.0,1258.36 L1712.0,1258.90 L1714.0,1259.44 L1716.0,1259.98 L1718.0,1260.51 L1720.0,1261.05 L1722.0,1261.59 L1724.0,1262.13 L1726.0,1262.67 L1728.0,1263.21 L1730.0,1263.75 L1732.0,1264.29 L1734.0,1264.83 L1736.0,1265.37 L1738.0,1265.91 L1740.0,1266.45 L1742.0,1266.99 L1744.0,1267.53 L1746.0,1268.07 L1748.0,1268.61 L1750.0,1269.15 L1752.0,1269.69 L1754.0,1270.23 L1756.0,1270.77 L1758.0,1271.31 L1760.0,1271.85 L1762.0,1272.39 L1764.0,1272.93 L1766.0,1273.47 L1768.0,1274.01 L1770.0,1274.55 L1772.0,1275.09 L1774.0,1275.63 L1776.0,1276.17 L1778.0,1276.71 L1780.0,1277.25 L1782.0,1277.79 L1784.0,1278.33 L1786.0,1278.87 L1788.0,1279.41 L1790.0,1279.95 L1792.0,1280.49 L1794.0,1281.03 L1796.0,1281.57 L1798.0,1282.11 L1800.0,1282.65 L1802.0,1283.19 L1804.0,1283.73 L1806.0,1284.27 L1808.0,1284.81 L1810.0,1285.35 L1812.0,1285.89 L1814.0,1286.43 L1816.0,1286.97 L1818.0,1287.51 L1820.0,1288.04 L1822.0,1288.58 L1824.0,1289.12 L1826.0,1289.66 L1828.0,1290.20 L1830.0,1290.74 L1832.0,1291.28 L1834.0,1291.82 L1836.0,1292.36 L1838.0,1292.90 L1840.0,1293.44 L1842.0,1293.98 L1844.0,1294.52 L1846.0,1295.06 L1848.0,1295.60 L1850.0,1296.14 L1852.0,1296.68 L1854.0,1297.22 L1856.0,1297.76 L1858.0,1298.30 L1860.0,1298.84 L1862.0,1299.38 L1864.0,1299.92 L1866.0,1300.46 L1868.0,1301.00 L1870.0,1301.54 L1872.0,1302.08 L1874.0,1302.62 L1876.0,1303.16 L1878.0,1303.70 L1880.0,1304.24 L1882.0,1304.78 L1884.0,1305.32 L1886.0,1305.86 L1888.0,1306.40 L1890.0,1306.94 L1892.0,1307.48 L1894.0,1308.02 L1896.0,1308.56 L1898.0,1309.10 L1900.0,1309.64 L1902.0,1310.18 L1904.0,1310.72 L1906.0,1311.26 L1908.0,1311.80 L1910.0,1312.34 L1912.0,1312.88 L1914.0,1313.42 L1916.0,1313.96 L1918.0,1314.50 L1920.0,1315.03 L1922.0,1315.57 L1924.0,1316.11 L1926.0,1316.65 L1928.0,1317.19 L1930.0,1317.73 L1932.0,1318.27 L1934.0,1318.81 L1936.0,1319.35 L1938.0,1319.89 L1940.0,1320.43 L1942.0,1320.97 L1944.0,1321.51 L1946.0,1322.05 L1948.0,1322.59 L1950.0,1323.13 L1952.0,1323.67 L1954.0,1324.21 L1956.0,1324.75 L1958.0,1325.29 L1960.0,1325.83 L1962.0,1326.37 L1964.0,1326.91 L1966.0,1327.45 L1968.0,1327.99 L1970.0,1328.53 L1972.0,1329.07" stroke-width="3.2"/>
<path d="M270.0,869.70 L272.0,870.24 L274.0,870.78 L276.0,871.32 L278.0,871.86 L280.0,872.40 L282.0,872.94 L284.0,873.48 L286.0,874.02 L288.0,874.56 L290.0,875.10 L292.0,875.64 L294.0,876.18 L296.0,876.72 L298.0,877.26 L300.0,877.80 L302.0,878.34 L304.0,878.88 L306.0,879.42 L308.0,879.96 L310.0,880.50 L312.0,881.04 L314.0,881.58 L316.0,882.12 L318.0,882.66 L320.0,883.19 L322.0,883.73 L324.0,884.27 L326.0,884.81 L328.0,885.35 L330.0,885.89 L332.0,886.43 L334.0,886.97 L336.0,887.51 L338.0,888.05 L340.0,888.59 L342.0,889.13 L344.0,889.67 L346.0,890.21 L348.0,890.75 L350.0,891.29 L352.0,891.83 L354.0,892.37 L356.0,892.91 L358.0,893.45 L360.0,893.99 L362.0,894.53 L364.0,895.07 L366.0,895.61 L368.0,896.15 L370.0,896.69 L372.0,897.23 L374.0,897.77 L376.0,898.31 L378.0,898.85 L380.0,899.39 L382.0,899.93 L384.0,900.47 L386.0,901.01 L388.0,901.55 L390.0,902.09 L392.0,902.63 L394.0,903.17 L396.0,903.71 L398.0,904.25 L400.0,904.79 L402.0,905.33 L404.0,905.87 L406.0,906.41 L408.0,906.95 L410.0,907.49 L412.0,908.03 L414.0,908.57 L416.0,909.11 L418.0,909.65 L420.0,910.18 L422.0,910.72 L424.0,911.26 L426.0,911.80 L428.0,912.34 L430.0,912.88 L432.0,913.42 L434.0,913.96 L436.0,914.50 L438.0,915.04 L440.0,915.58 L442.0,916.12 L444.0,916.66 L446.0,917.20 L448.0,917.74 L450.0,918.28 L452.0,918.82 L454.0,919.36 L456.0,919.90 L458.0,920.44 L460.0,920.98 L462.0,921.52 L464.0,922.06 L466.0,922.60 L468.0,923.14 L470.0,923.68 L472.0,924.22 L474.0,924.76 L476.0,925.30 L478.0,925.84 L480.0,926.38 L482.0,926.92 L484.0,927.46 L486.0,928.00 L488.0,928.54 L490.0,929.08 L492.0,929.62 L494.0,930.16 L496.0,930.70 L498.0,931.24 L500.0,931.78 L502.0,932.32 L504.0,932.86 L506.0,933.40 L508.0,933.94 L510.0,934.48 L512.0,935.02 L514.0,935.56 L516.0,936.10 L518.0,936.64 L520.0,937.17 L522.0,937.71 L524.0,938.25 L526.0,938.79 L528.0,939.33 L530.0,939.87 L532.0,940.41 L534.0,940.95 L536.0,941.49 L538.0,942.03 L540.0,942.57 L542.0,943.11 L544.0,943.65 L546.0,944.19 L548.0,944.73 L550.0,945.27 L552.0,945.81 L554.0,946.35 L556.0,946.89 L558.0,947.43 L560.0,947.97 L562.0,948.51 L564.0,949.05 L566.0,949.59 L568.0,950.13 L570.0,950.67 L572.0,951.21 L574.0,951.75 L576.0,952.29 L578.0,952.83 L580.0,953.37 L582.0,953.91 L584.0,954.45 L586.0,954.99 L588.0,955.53 L590.0,956.07 L592.0,956.61 L594.0,957.15 L596.0,957.69 L598.0,958.23 L600.0,958.77 L602.0,959.31 L604.0,959.85 L606.0,960.39 L608.0,960.93 L610.0,961.47 L612.0,962.01 L614.0,962.55 L616.0,963.09 L618.0,963.63 L620.0,964.16 L622.0,964.70 L624.0,965.24 L626.0,965.78 L628.0,966.32 L630.0,966.86 L632.0,967.40 L634.0,967.94 L636.0,968.48 L638.0,969.02 L640.0,969.56 L642.0,970.10 L644.0,970.64 L646.0,971.18 L648.0,971.72 L650.0,972.26 L652.0,972.80 L654.0,973.34 L656.0,973.88 L658.0,974.42 L660.0,974.96 L662.0,975.50 L664.0,976.04 L666.0,976.58 L668.0,977.12 L670.0,977.66 L672.0,978.20 L674.0,978.74 L676.0,979.28 L678.0,979.82 L680.0,980.36 L682.0,980.90 L684.0,981.44 L686.0,981.98 L688.0,982.52 L690.0,983.06 L692.0,983.60 L694.0,984.14 L696.0,984.68 L698.0,985.22 L700.0,985.76 L702.0,986.30 L704.0,986.84 L706.0,987.38 L708.0,987.92 L710.0,988.46 L712.0,989.00 L714.0,989.54 L716.0,990.08 L718.0,990.61 L720.0,991.15 L722.0,991.69 L724.0,992.23 L726.0,992.77 L728.0,993.31 L730.0,993.85 L732.0,994.39 L734.0,994.93 L736.0,995.47 L738.0,996.01 L740.0,996.55 L742.0,997.09 L744.0,997.63 L746.0,998.17 L748.0,998.71 L750.0,999.25 L752.0,999.79 L754.0,1000.33 L756.0,1000.87 L758.0,1001.41 L760.0,1001.95 L762.0,1002.49 L764.0,1003.03 L766.0,1003.57 L768.0,1004.11 L770.0,1004.65 L772.0,1005.19 L774.0,1005.73 L776.0,1006.27 L778.0,1006.81 L780.0,1007.35 L782.0,1007.89 L784.0,1008.43 L786.0,1008.97 L788.0,1009.51 L790.0,1010.05 L792.0,1010.59 L794.0,1011.12 L796.0,1011.66 L798.0,1012.20 L800.0,1012.74 L802.0,1013.28 L804.0,1013.82 L806.0,1014.36 L808.0,1014.90 L810.0,1015.44 L812.0,1015.98 L814.0,1016.52 L816.0,1017.06 L818.0,1017.60 L820.0,1018.14 L822.0,1018.68 L824.0,1019.22 L826.0,1019.76 L828.0,1020.30 L830.0,1020.84 L832.0,1021.38 L834.0,1021.92 L836.0,1022.45 L838.0,1022.99 L840.0,1023.53 L842.0,1024.07 L844.0,1024.61 L846.0,1025.15 L848.0,1025.69 L850.0,1026.23 L852.0,1026.77 L854.0,1027.31 L856.0,1027.85 L858.0,1028.39 L860.0,1028.92 L862.0,1029.46 L864.0,1030.00 L866.0,1030.54 L868.0,1031.08 L870.0,1031.62 L872.0,1032.16 L874.0,1032.70 L876.0,1033.23 L878.0,1033.77 L880.0,1034.31 L882.0,1034.85 L884.0,1035.39 L886.0,1035.93 L888.0,1036.46 L890.0,1037.00 L892.0,1037.54 L894.0,1038.08 L896.0,1038.62 L898.0,1039.15 L900.0,1039.69 L902.0,1040.23 L904.0,1040.77 L906.0,1041.30 L908.0,1041.84 L910.0,1042.38 L912.0,1042.91 L914.0,1043.45 L916.0,1043.99 L918.0,1044.52 L920.0,1045.06 L922.0,1045.59 L924.0,1046.13 L926.0,1046.67 L928.0,1047.20 L930.0,1047.74 L932.0,1048.27 L934.0,1048.81 L936.0,1049.34 L938.0,1049.88 L940.0,1050.41 L942.0,1050.94 L944.0,1051.48 L946.0,1052.01 L948.0,1052.54 L950.0,1053.08 L952.0,1053.61 L954.0,1054.14 L956.0,1054.67 L958.0,1055.20 L960.0,1055.73 L962.0,1056.26 L964.0,1056.79 L966.0,1057.32 L968.0,1057.85 L970.0,1058.38 L972.0,1058.91 L974.0,1059.44 L976.0,1059.97 L978.0,1060.49 L980.0,1061.02 L982.0,1061.54 L984.0,1062.07 L986.0,1062.59 L988.0,1063.12 L990.0,1063.64 L992.0,1064.16 L994.0,1064.68 L996.0,1065.20 L998.0,1065.72 L1000.0,1066.24 L1002.0,1066.76 L1004.0,1067.28 L1006.0,1067.79 L1008.0,1068.31 L1010.0,1068.82 L1012.0,1069.34 L1014.0,1069.85 L1016.0,1070.36 L1018.0,1070.87 L1020.0,1071.38 L1022.0,1071.89 L1024.0,1072.39 L1026.0,1072.90 L1028.0,1073.40 L1030.0,1073.90 L1032.0,1074.40 L1034.0,1074.90 L1036.0,1075.40 L1038.0,1075.90 L1040.0,1076.39 L1042.0,1076.88 L1044.0,1077.37 L1046.0,1077.86 L1048.0,1078.35 L1050.0,1078.83 L1052.0,1079.31 L1054.0,1079.79 L1056.0,1080.27 L1058.0,1080.74 L1060.0,1081.22 L1062.0,1081.69 L1064.0,1082.15 L1066.0,1082.62 L1068.0,1083.08 L1070.0,1083.54 L1072.0,1083.99 L1074.0,1084.44 L1076.0,1084.89 L1078.0,1085.34 L1080.0,1085.78 L1082.0,1086.22 L1084.0,1086.65 L1086.0,1087.08 L1088.0,1087.51 L1090.0,1087.93 L1092.0,1088.35 L1094.0,1088.77 L1096.0,1089.18 L1098.0,1089.58 L1100.0,1089.98 L1102.0,1090.37 L1104.0,1090.76 L1106.0,1091.15 L1108.0,1091.53 L1110.0,1091.90 L1112.0,1092.27 L1114.0,1092.63 L1116.0,1092.98 L1118.0,1093.33 L1120.0,1093.67 L1122.0,1094.00 L1124.0,1094.33 L1126.0,1094.65 L1128.0,1094.96 L1130.0,1095.26 L1132.0,1095.56 L1134.0,1095.85 L1136.0,1096.12 L1138.0,1096.39 L1140.0,1096.65 L1142.0,1096.90 L1144.0,1097.14 L1146.0,1097.37 L1148.0,1097.59 L1150.0,1097.80 L1152.0,1098.00 L1154.0,1098.18 L1156.0,1098.36 L1158.0,1098.52 L1160.0,1098.67 L1162.0,1098.81 L1164.0,1098.93 L1166.0,1099.04 L1168.0,1099.13 L1170.0,1099.21 L1172.0,1099.28 L1174.0,1099.33 L1176.0,1099.36 L1178.0,1099.37 L1180.0,1099.37 L1182.0,1099.35 L1184.0,1099.32 L1186.0,1099.26 L1188.0,1099.19 L1190.0,1099.09 L1192.0,1098.98 L1194.0,1098.84 L1196.0,1098.68 L1198.0,1098.50 L1200.0,1098.30 L1202.0,1098.07 L1204.0,1097.81 L1206.0,1097.54 L1208.0,1097.23 L1210.0,1096.90 L1212.0,1096.54 L1214.0,1096.16 L1216.0,1095.74 L1218.0,1095.29 L1220.0,1094.82 L1222.0,1094.31 L1224.0,1093.76 L1226.0,1093.19 L1228.0,1092.57 L1230.0,1091.93 L1232.0,1091.24 L1234.0,1090.52 L1236.0,1089.75 L1238.0,1088.95 L1240.0,1088.10 L1242.0,1087.21 L1244.0,1086.28 L1246.0,1085.30 L1248.0,1084.27 L1250.0,1083.20 L1252.0,1082.07 L1254.0,1080.89 L1256.0,1079.66 L1258.0,1078.38 L1260.0,1077.04 L1262.0,1075.64 L1264.0,1074.18 L1266.0,1072.66 L1268.0,1071.07 L1270.0,1069.42 L1272.0,1067.70 L1274.0,1065.91 L1276.0,1064.06 L1278.0,1062.12 L1280.0,1060.11 L1282.0,1058.03 L1284.0,1055.86 L1286.0,1053.61 L1288.0,1051.27 L1290.0,1048.85 L1292.0,1046.33 L1294.0,1043.72 L1296.0,1041.01 L1298.0,1038.21 L1300.0,1035.30 L1302.0,1032.29 L1304.0,1029.17 L1306.0,1025.93 L1308.0,1022.58 L1310.0,1019.12 L1312.0,1015.53 L1314.0,1011.81 L1316.0,1007.96 L1318.0,1003.99 L1320.0,999.87 L1322.0,995.61 L1324.0,991.21 L1326.0,986.66 L1328.0,981.96 L1330.0,977.09 L1332.0,972.07 L1334.0,966.87 L1336.0,961.51 L1338.0,955.97 L1340.0,950.25 L1342.0,944.34 L1344.0,938.24 L1346.0,931.95 L1348.0,925.45 L1350.0,918.75 L1352.0,911.84 L1354.0,904.72 L1356.0,897.37 L1358.0,889.80 L1360.0,882.01 L1362.0,873.97 L1364.0,865.70 L1366.0,857.19 L1368.0,848.43 L1370.0,839.42 L1372.0,830.15 L1374.0,820.63 L1376.0,810.85 L1378.0,800.81 L1380.0,790.50 L1382.0,779.93 L1384.0,769.10 L1386.0,758.00 L1388.0,746.63 L1390.0,735.01 L1392.0,723.13 L1394.0,710.99 L1396.0,698.61 L1398.0,685.98 L1400.0,673.12 L1402.0,660.04 L1404.0,646.75 L1406.0,633.26 L1408.0,619.59 L1410.0,605.75 L1412.0,591.77 L1414.0,577.67 L1416.0,563.46 L1418.0,549.19 L1420.0,534.87 L1422.0,520.53 L1424.0,506.22 L1426.0,491.97 L1428.0,477.82 L1430.0,463.80 L1432.0,449.97 L1434.0,436.37 L1436.0,423.04 L1438.0,410.04 L1440.0,397.42 L1442.0,385.22 L1444.0,373.51 L1446.0,362.33 L1448.0,351.73 L1450.0,341.78 L1452.0,332.51 L1454.0,323.98 L1456.0,316.23 L1458.0,309.31 L1460.0,303.26 L1462.0,298.11 L1464.0,293.89 L1466.0,290.64 L1468.0,288.37 L1470.0,287.10 L1472.0,286.85 L1474.0,287.60 L1476.0,289.36 L1478.0,292.11 L1480.0,295.84 L1482.0,300.53 L1484.0,306.16 L1486.0,312.70 L1488.0,320.11 L1490.0,328.37 L1492.0,337.43 L1494.0,347.25 L1496.0,357.77 L1498.0,368.96 L1500.0,380.75 L1502.0,393.11 L1504.0,405.98 L1506.0,419.30 L1508.0,433.03 L1510.0,447.12 L1512.0,461.51 L1514.0,476.17 L1516.0,491.03 L1518.0,506.06 L1520.0,521.22 L1522.0,536.47 L1524.0,551.76 L1526.0,567.07 L1528.0,582.35 L1530.0,597.59 L1532.0,612.75 L1534.0,627.81 L1536.0,642.73 L1538.0,657.52 L1540.0,672.13 L1542.0,686.57 L1544.0,700.80 L1546.0,714.83 L1548.0,728.63 L1550.0,742.21 L1552.0,755.54 L1554.0,768.63 L1556.0,781.47 L1558.0,794.05 L1560.0,806.38 L1562.0,818.44 L1564.0,830.25 L1566.0,841.79 L1568.0,853.08 L1570.0,864.10 L1572.0,874.87 L1574.0,885.38 L1576.0,895.64 L1578.0,905.64 L1580.0,915.40 L1582.0,924.92 L1584.0,934.20 L1586.0,943.24 L1588.0,952.06 L1590.0,960.64 L1592.0,969.01 L1594.0,977.16 L1596.0,985.10 L1598.0,992.83 L1600.0,1000.35 L1602.0,1007.68 L1604.0,1014.82 L1606.0,1021.77 L1608.0,1028.53 L1610.0,1035.12 L1612.0,1041.53 L1614.0,1047.78 L1616.0,1053.86 L1618.0,1059.77 L1620.0,1065.53 L1622.0,1071.14 L1624.0,1076.61 L1626.0,1081.92 L1628.0,1087.10 L1630.0,1092.14 L1632.0,1097.05 L1634.0,1101.84 L1636.0,1106.50 L1638.0,1111.03 L1640.0,1115.45 L1642.0,1119.76 L1644.0,1123.95 L1646.0,1128.04 L1648.0,1132.02 L1650.0,1135.90 L1652.0,1139.68 L1654.0,1143.37 L1656.0,1146.96 L1658.0,1150.47 L1660.0,1153.88 L1662.0,1157.21 L1664.0,1160.46 L1666.0,1163.63 L1668.0,1166.72 L1670.0,1169.74 L1672.0,1172.68 L1674.0,1175.55 L1676.0,1178.35 L1678.0,1181.08 L1680.0,1183.75 L1682.0,1186.36 L1684.0,1188.90 L1686.0,1191.39 L1688.0,1193.81 L1690.0,1196.18 L1692.0,1198.50 L1694.0,1200.76 L1696.0,1202.98 L1698.0,1205.14 L1700.0,1207.25 L1702.0,1209.32 L1704.0,1211.34 L1706.0,1213.31 L1708.0,1215.25 L1710.0,1217.14 L1712.0,1218.99 L1714.0,1220.80 L1716.0,1222.57 L1718.0,1224.31 L1720.0,1226.01 L1722.0,1227.67 L1724.0,1229.30 L1726.0,1230.90 L1728.0,1232.46 L1730.0,1234.00 L1732.0,1235.50 L1734.0,1236.97 L1736.0,1238.42 L1738.0,1239.84 L1740.0,1241.23 L1742.0,1242.59 L1744.0,1243.93 L1746.0,1245.25 L1748.0,1246.54 L1750.0,1247.81 L1752.0,1249.05 L1754.0,1250.28 L1756.0,1251.48 L1758.0,1252.66 L1760.0,1253.82 L1762.0,1254.97 L1764.0,1256.09 L1766.0,1257.20 L1768.0,1258.28 L1770.0,1259.35 L1772.0,1260.41 L1774.0,1261.44 L1776.0,1262.47 L1778.0,1263.47 L1780.0,1264.46 L1782.0,1265.44 L1784.0,1266.40 L1786.0,1267.35 L1788.0,1268.29 L1790.0,1269.21 L1792.0,1270.13 L1794.0,1271.02 L1796.0,1271.91 L1798.0,1272.79 L1800.0,1273.65 L1802.0,1274.51 L1804.0,1275.35 L1806.0,1276.19 L1808.0,1277.01 L1810.0,1277.83 L1812.0,1278.64 L1814.0,1279.43 L1816.0,1280.22 L1818.0,1281.00 L1820.0,1281.78 L1822.0,1282.54 L1824.0,1283.30 L1826.0,1284.05 L1828.0,1284.79 L1830.0,1285.53 L1832.0,1286.26 L1834.0,1286.98 L1836.0,1287.70 L1838.0,1288.41 L1840.0,1289.11 L1842.0,1289.81 L1844.0,1290.51 L1846.0,1291.20 L1848.0,1291.88 L1850.0,1292.56 L1852.0,1293.23 L1854.0,1293.90 L1856.0,1294.56 L1858.0,1295.22 L1860.0,1295.88 L1862.0,1296.53 L1864.0,1297.18 L1866.0,1297.82 L1868.0,1298.46 L1870.0,1299.10 L1872.0,1299.73 L1874.0,1300.36 L1876.0,1300.99 L1878.0,1301.62 L1880.0,1302.24 L1882.0,1302.85 L1884.0,1303.47 L1886.0,1304.08 L1888.0,1304.69 L1890.0,1305.30 L1892.0,1305.90 L1894.0,1306.50 L1896.0,1307.10 L1898.0,1307.70 L1900.0,1308.30 L1902.0,1308.89 L1904.0,1309.48 L1906.0,1310.07 L1908.0,1310.66 L1910.0,1311.24 L1912.0,1311.83 L1914.0,1312.41 L1916.0,1312.99 L1918.0,1313.57 L1920.0,1314.15 L1922.0,1314.72 L1924.0,1315.30 L1926.0,1315.87 L1928.0,1316.44 L1930.0,1317.01 L1932.0,1317.58 L1934.0,1318.15 L1936.0,1318.72 L1938.0,1319.29 L1940.0,1319.85 L1942.0,1320.42 L1944.0,1320.98 L1946.0,1321.54 L1948.0,1322.10 L1950.0,1322.66 L1952.0,1323.22 L1954.0,1323.78 L1956.0,1324.34 L1958.0,1324.90 L1960.0,1325.45 L1962.0,1326.01 L1964.0,1326.57 L1966.0,1327.12 L1968.0,1327.67 L1970.0,1328.23 L1972.0,1328.78" stroke-width="3.2"/>
<path d="M270.0,859.46 L272.0,859.74 L274.0,860.01 L276.0,860.28 L278.0,860.53 L280.0,860.78 L282.0,861.03 L284.0,861.26 L286.0,861.49 L288.0,861.71 L290.0,861.93 L292.0,862.13 L294.0,862.33 L296.0,862.52 L298.0,862.70 L300.0,862.88 L302.0,863.04 L304.0,863.19 L306.0,863.34 L308.0,863.48 L310.0,863.60 L312.0,863.72 L314.0,863.83 L316.0,863.92 L318.0,864.01 L320.0,864.08 L322.0,864.15 L324.0,864.20 L326.0,864.24 L328.0,864.27 L330.0,864.28 L332.0,864.29 L334.0,864.28 L336.0,864.26 L338.0,864.23 L340.0,864.18 L342.0,864.12 L344.0,864.04 L346.0,863.95 L348.0,863.84 L350.0,863.72 L352.0,863.59 L354.0,863.44 L356.0,863.27 L358.0,863.08 L360.0,862.88 L362.0,862.66 L364.0,862.43 L366.0,862.17 L368.0,861.90 L370.0,861.61 L372.0,861.30 L374.0,860.97 L376.0,860.62 L378.0,860.25 L380.0,859.86 L382.0,859.45 L384.0,859.01 L386.0,858.56 L388.0,858.08 L390.0,857.58 L392.0,857.06 L394.0,856.51 L396.0,855.94 L398.0,855.34 L400.0,854.72 L402.0,854.07 L404.0,853.40 L406.0,852.70 L408.0,851.97 L410.0,851.21 L412.0,850.43 L414.0,849.62 L416.0,848.79 L418.0,847.92 L420.0,847.02 L422.0,846.10 L424.0,845.14 L426.0,844.16 L428.0,843.14 L430.0,842.10 L432.0,841.02 L434.0,839.91 L436.0,838.77 L438.0,837.60 L440.0,836.39 L442.0,835.16 L444.0,833.89 L446.0,832.59 L448.0,831.26 L450.0,829.90 L452.0,828.51 L454.0,827.09 L456.0,825.63 L458.0,824.14 L460.0,822.63 L462.0,821.08 L464.0,819.51 L466.0,817.91 L468.0,816.28 L470.0,814.62 L472.0,812.94 L474.0,811.24 L476.0,809.51 L478.0,807.76 L480.0,805.99 L482.0,804.20 L484.0,802.40 L486.0,800.58 L488.0,798.74 L490.0,796.90 L492.0,795.05 L494.0,793.19 L496.0,791.32 L498.0,789.46 L500.0,787.60 L502.0,785.74 L504.0,783.89 L506.0,782.05 L508.0,780.22 L510.0,778.41 L512.0,776.62 L514.0,774.86 L516.0,773.12 L518.0,771.41 L520.0,769.74 L522.0,768.10 L524.0,766.51 L526.0,764.96 L528.0,763.46 L530.0,762.01 L532.0,760.62 L534.0,759.28 L536.0,758.01 L538.0,756.80 L540.0,755.66 L542.0,754.59 L544.0,753.59 L546.0,752.67 L548.0,751.82 L550.0,751.05 L552.0,750.35 L554.0,749.74 L556.0,749.21 L558.0,748.76 L560.0,748.39 L562.0,748.10 L564.0,747.89 L566.0,747.76 L568.0,747.70 L570.0,747.72 L572.0,747.82 L574.0,747.99 L576.0,748.22 L578.0,748.53 L580.0,748.89 L582.0,749.32 L584.0,749.80 L586.0,750.34 L588.0,750.92 L590.0,751.55 L592.0,752.21 L594.0,752.92 L596.0,753.65 L598.0,754.41 L600.0,755.19 L602.0,755.99 L604.0,756.80 L606.0,757.62 L608.0,758.45 L610.0,759.27 L612.0,760.09 L614.0,760.89 L616.0,761.68 L618.0,762.45 L620.0,763.20 L622.0,763.92 L624.0,764.61 L626.0,765.26 L628.0,765.87 L630.0,766.44 L632.0,766.96 L634.0,767.43 L636.0,767.85 L638.0,768.21 L640.0,768.51 L642.0,768.74 L644.0,768.91 L646.0,769.00 L648.0,769.03 L650.0,768.98 L652.0,768.85 L654.0,768.64 L656.0,768.35 L658.0,767.98 L660.0,767.52 L662.0,766.97 L664.0,766.33 L666.0,765.60 L668.0,764.77 L670.0,763.85 L672.0,762.83 L674.0,761.71 L676.0,760.49 L678.0,759.17 L680.0,757.74 L682.0,756.21 L684.0,754.58 L686.0,752.83 L688.0,750.99 L690.0,749.03 L692.0,746.96 L694.0,744.79 L696.0,742.50 L698.0,740.10 L700.0,737.59 L702.0,734.98 L704.0,732.25 L706.0,729.40 L708.0,726.45 L710.0,723.39 L712.0,720.22 L714.0,716.94 L716.0,713.56 L718.0,710.06 L720.0,706.47 L722.0,702.77 L724.0,698.97 L726.0,695.07 L728.0,691.08 L730.0,687.00 L732.0,682.83 L734.0,678.57 L736.0,674.24 L738.0,669.82 L740.0,665.34 L742.0,660.79 L744.0,656.19 L746.0,651.53 L748.0,646.82 L750.0,642.08 L752.0,637.30 L754.0,632.51 L756.0,627.70 L758.0,622.88 L760.0,618.07 L762.0,613.28 L764.0,608.52 L766.0,603.79 L768.0,599.11 L770.0,594.49 L772.0,589.95 L774.0,585.49 L776.0,581.14 L778.0,576.89 L780.0,572.78 L782.0,568.80 L784.0,564.97 L786.0,561.31 L788.0,557.83 L790.0,554.54 L792.0,551.46 L794.0,548.59 L796.0,545.96 L798.0,543.56 L800.0,541.41 L802.0,539.53 L804.0,537.91 L806.0,536.57 L808.0,535.52 L810.0,534.75 L812.0,534.29 L814.0,534.12 L816.0,534.26 L818.0,534.70 L820.0,535.45 L822.0,536.50 L824.0,537.85 L826.0,539.51 L828.0,541.46 L830.0,543.70 L832.0,546.22 L834.0,549.02 L836.0,552.09 L838.0,555.42 L840.0,559.00 L842.0,562.81 L844.0,566.86 L846.0,571.12 L848.0,575.58 L850.0,580.23 L852.0,585.07 L854.0,590.06 L856.0,595.21 L858.0,600.50 L860.0,605.91 L862.0,611.44 L864.0,617.06 L866.0,622.77 L868.0,628.56 L870.0,634.41 L872.0,640.31 L874.0,646.25 L876.0,652.22 L878.0,658.20 L880.0,664.20 L882.0,670.19 L884.0,676.17 L886.0,682.14 L888.0,688.08 L890.0,693.98 L892.0,699.84 L894.0,705.66 L896.0,711.42 L898.0,717.12 L900.0,722.76 L902.0,728.33 L904.0,733.82 L906.0,739.24 L908.0,744.58 L910.0,749.83 L912.0,755.00 L914.0,760.07 L916.0,765.06 L918.0,769.95 L920.0,774.74 L922.0,779.44 L924.0,784.05 L926.0,788.55 L928.0,792.95 L930.0,797.26 L932.0,801.46 L934.0,805.56 L936.0,809.57 L938.0,813.47 L940.0,817.27 L942.0,820.97 L944.0,824.57 L946.0,828.08 L948.0,831.48 L950.0,834.79 L952.0,838.00 L954.0,841.11 L956.0,844.12 L958.0,847.04 L960.0,849.87 L962.0,852.61 L964.0,855.25 L966.0,857.80 L968.0,860.26 L970.0,862.63 L972.0,864.91 L974.0,867.10 L976.0,869.21 L978.0,871.23 L980.0,873.17 L982.0,875.02 L984.0,876.79 L986.0,878.48 L988.0,880.09 L990.0,881.61 L992.0,883.06 L994.0,884.43 L996.0,885.73 L998.0,886.94 L1000.0,888.08 L1002.0,889.15 L1004.0,890.14 L1006.0,891.06 L1008.0,891.91 L1010.0,892.69 L1012.0,893.39 L1014.0,894.03 L1016.0,894.59 L1018.0,895.09 L1020.0,895.52 L1022.0,895.88 L1024.0,896.17 L1026.0,896.40 L1028.0,896.57 L1030.0,896.67 L1032.0,896.70 L1034.0,896.68 L1036.0,896.58 L1038.0,896.43 L1040.0,896.22 L1042.0,895.94 L1044.0,895.61 L1046.0,895.21 L1048.0,894.76 L1050.0,894.25 L1052.0,893.68 L1054.0,893.05 L1056.0,892.36 L1058.0,891.62 L1060.0,890.83 L1062.0,889.98 L1064.0,889.07 L1066.0,888.11 L1068.0,887.10 L1070.0,886.04 L1072.0,884.93 L1074.0,883.76 L1076.0,882.55 L1078.0,881.28 L1080.0,879.97 L1082.0,878.61 L1084.0,877.21 L1086.0,875.76 L1088.0,874.26 L1090.0,872.73 L1092.0,871.15 L1094.0,869.53 L1096.0,867.86 L1098.0,866.16 L1100.0,864.43 L1102.0,862.65 L1104.0,860.84 L1106.0,859.00 L1108.0,857.13 L1110.0,855.22 L1112.0,853.29 L1114.0,851.33 L1116.0,849.34 L1118.0,847.33 L1120.0,845.29 L1122.0,843.24 L1124.0,841.17 L1126.0,839.08 L1128.0,836.97 L1130.0,834.86 L1132.0,832.73 L1134.0,830.60 L1136.0,828.46 L1138.0,826.32 L1140.0,824.17 L1142.0,822.03 L1144.0,819.89 L1146.0,817.76 L1148.0,815.64 L1150.0,813.53 L1152.0,811.43 L1154.0,809.35 L1156.0,807.29 L1158.0,805.26 L1160.0,803.25 L1162.0,801.26 L1164.0,799.31 L1166.0,797.38 L1168.0,795.50 L1170.0,793.65 L1172.0,791.85 L1174.0,790.08 L1176.0,788.37 L1178.0,786.70 L1180.0,785.08 L1182.0,783.52 L1184.0,782.01 L1186.0,780.55 L1188.0,779.16 L1190.0,777.83 L1192.0,776.56 L1194.0,775.36 L1196.0,774.22 L1198.0,773.15 L1200.0,772.14 L1202.0,771.21 L1204.0,770.35 L1206.0,769.55 L1208.0,768.83 L1210.0,768.18 L1212.0,767.61 L1214.0,767.10 L1216.0,766.67 L1218.0,766.30 L1220.0,766.01 L1222.0,765.78 L1224.0,765.63 L1226.0,765.54 L1228.0,765.51 L1230.0,765.55 L1232.0,765.65 L1234.0,765.81 L1236.0,766.02 L1238.0,766.29 L1240.0,766.61 L1242.0,766.98 L1244.0,767.40 L1246.0,767.86 L1248.0,768.36 L1250.0,768.89 L1252.0,769.45 L1254.0,770.04 L1256.0,770.66 L1258.0,771.30 L1260.0,771.95 L1262.0,772.61 L1264.0,773.28 L1266.0,773.95 L1268.0,774.62 L1270.0,775.28 L1272.0,775.93 L1274.0,776.56 L1276.0,777.17 L1278.0,777.76 L1280.0,778.31 L1282.0,778.82 L1284.0,779.29 L1286.0,779.72 L1288.0,780.09 L1290.0,780.40 L1292.0,780.65 L1294.0,780.83 L1296.0,780.93 L1298.0,780.96 L1300.0,780.90 L1302.0,780.75 L1304.0,780.50 L1306.0,780.15 L1308.0,779.70 L1310.0,779.13 L1312.0,778.44 L1314.0,777.63 L1316.0,776.69 L1318.0,775.61 L1320.0,774.39 L1322.0,773.03 L1324.0,771.51 L1326.0,769.84 L1328.0,768.00 L1330.0,765.99 L1332.0,763.81 L1334.0,761.45 L1336.0,758.89 L1338.0,756.15 L1340.0,753.21 L1342.0,750.06 L1344.0,746.70 L1346.0,743.13 L1348.0,739.34 L1350.0,735.32 L1352.0,731.06 L1354.0,726.57 L1356.0,721.83 L1358.0,716.85 L1360.0,711.61 L1362.0,706.11 L1364.0,700.35 L1366.0,694.32 L1368.0,688.01 L1370.0,681.43 L1372.0,674.57 L1374.0,667.42 L1376.0,659.99 L1378.0,652.26 L1380.0,644.25 L1382.0,635.94 L1384.0,627.35 L1386.0,618.45 L1388.0,609.27 L1390.0,599.80 L1392.0,590.04 L1394.0,580.01 L1396.0,569.69 L1398.0,559.11 L1400.0,548.26 L1402.0,537.17 L1404.0,525.84 L1406.0,514.28 L1408.0,502.52 L1410.0,490.56 L1412.0,478.43 L1414.0,466.15 L1416.0,453.75 L1418.0,441.24 L1420.0,428.67 L1422.0,416.06 L1424.0,403.45 L1426.0,390.87 L1428.0,378.36 L1430.0,365.97 L1432.0,353.74 L1434.0,341.71 L1436.0,329.94 L1438.0,318.46 L1440.0,307.34 L1442.0,296.63 L1444.0,286.37 L1446.0,276.63 L1448.0,267.45 L1450.0,258.88 L1452.0,250.98 L1454.0,243.80 L1456.0,237.38 L1458.0,231.77 L1460.0,227.00 L1462.0,223.12 L1464.0,220.15 L1466.0,218.12 L1468.0,217.06 L1470.0,216.98 L1472.0,217.89 L1474.0,219.80 L1476.0,222.69 L1478.0,226.55 L1480.0,231.38 L1482.0,237.15 L1484.0,243.84 L1486.0,251.43 L1488.0,259.87 L1490.0,269.14 L1492.0,279.20 L1494.0,289.99 L1496.0,301.48 L1498.0,313.61 L1500.0,326.34 L1502.0,339.62 L1504.0,353.39 L1506.0,367.60 L1508.0,382.20 L1510.0,397.15 L1512.0,412.39 L1514.0,427.87 L1516.0,443.56 L1518.0,459.39 L1520.0,475.35 L1522.0,491.37 L1524.0,507.43 L1526.0,523.49 L1528.0,539.52 L1530.0,555.48 L1532.0,571.36 L1534.0,587.12 L1536.0,602.75 L1538.0,618.21 L1540.0,633.50 L1542.0,648.59 L1544.0,663.48 L1546.0,678.14 L1548.0,692.58 L1550.0,706.77 L1552.0,720.71 L1554.0,734.40 L1556.0,747.83 L1558.0,760.99 L1560.0,773.88 L1562.0,786.51 L1564.0,798.86 L1566.0,810.95 L1568.0,822.77 L1570.0,834.31 L1572.0,845.60 L1574.0,856.61 L1576.0,867.37 L1578.0,877.87 L1580.0,888.11 L1582.0,898.10 L1584.0,907.84 L1586.0,917.35 L1588.0,926.61 L1590.0,935.64 L1592.0,944.44 L1594.0,953.02 L1596.0,961.38 L1598.0,969.52 L1600.0,977.46 L1602.0,985.19 L1604.0,992.72 L1606.0,1000.06 L1608.0,1007.21 L1610.0,1014.17 L1612.0,1020.95 L1614.0,1027.55 L1616.0,1033.99 L1618.0,1040.26 L1620.0,1046.36 L1622.0,1052.31 L1624.0,1058.11 L1626.0,1063.75 L1628.0,1069.25 L1630.0,1074.61 L1632.0,1079.83 L1634.0,1084.92 L1636.0,1089.88 L1638.0,1094.71 L1640.0,1099.43 L1642.0,1104.02 L1644.0,1108.49 L1646.0,1112.86 L1648.0,1117.11 L1650.0,1121.26 L1652.0,1125.30 L1654.0,1129.25 L1656.0,1133.10 L1658.0,1136.85 L1660.0,1140.51 L1662.0,1144.08 L1664.0,1147.57 L1666.0,1150.97 L1668.0,1154.29 L1670.0,1157.53 L1672.0,1160.69 L1674.0,1163.78 L1676.0,1166.80 L1678.0,1169.74 L1680.0,1172.62 L1682.0,1175.43 L1684.0,1178.17 L1686.0,1180.85 L1688.0,1183.47 L1690.0,1186.03 L1692.0,1188.53 L1694.0,1190.98 L1696.0,1193.37 L1698.0,1195.71 L1700.0,1198.00 L1702.0,1200.23 L1704.0,1202.42 L1706.0,1204.56 L1708.0,1206.66 L1710.0,1208.71 L1712.0,1210.72 L1714.0,1212.68 L1716.0,1214.61 L1718.0,1216.49 L1720.0,1218.33 L1722.0,1220.14 L1724.0,1221.91 L1726.0,1223.65 L1728.0,1225.35 L1730.0,1227.02 L1732.0,1228.65 L1734.0,1230.26 L1736.0,1231.83 L1738.0,1233.37 L1740.0,1234.89 L1742.0,1236.37 L1744.0,1237.83 L1746.0,1239.26 L1748.0,1240.66 L1750.0,1242.04 L1752.0,1243.40 L1754.0,1244.73 L1756.0,1246.04 L1758.0,1247.33 L1760.0,1248.59 L1762.0,1249.83 L1764.0,1251.06 L1766.0,1252.26 L1768.0,1253.44 L1770.0,1254.60 L1772.0,1255.75 L1774.0,1256.88 L1776.0,1257.99 L1778.0,1259.08 L1780.0,1260.16 L1782.0,1261.22 L1784.0,1262.26 L1786.0,1263.29 L1788.0,1264.31 L1790.0,1265.31 L1792.0,1266.30 L1794.0,1267.27 L1796.0,1268.24 L1798.0,1269.18 L1800.0,1270.12 L1802.0,1271.05 L1804.0,1271.96 L1806.0,1272.86 L1808.0,1273.75 L1810.0,1274.63 L1812.0,1275.50 L1814.0,1276.36 L1816.0,1277.21 L1818.0,1278.05 L1820.0,1278.88 L1822.0,1279.71 L1824.0,1280.52 L1826.0,1281.33 L1828.0,1282.13 L1830.0,1282.92 L1832.0,1283.70 L1834.0,1284.47 L1836.0,1285.24 L1838.0,1286.00 L1840.0,1286.76 L1842.0,1287.50 L1844.0,1288.24 L1846.0,1288.98 L1848.0,1289.71 L1850.0,1290.43 L1852.0,1291.15 L1854.0,1291.86 L1856.0,1292.56 L1858.0,1293.27 L1860.0,1293.96 L1862.0,1294.65 L1864.0,1295.34 L1866.0,1296.02 L1868.0,1296.70 L1870.0,1297.37 L1872.0,1298.04 L1874.0,1298.71 L1876.0,1299.37 L1878.0,1300.03 L1880.0,1300.68 L1882.0,1301.33 L1884.0,1301.98 L1886.0,1302.62 L1888.0,1303.26 L1890.0,1303.90 L1892.0,1304.53 L1894.0,1305.16 L1896.0,1305.79 L1898.0,1306.42 L1900.0,1307.04 L1902.0,1307.66 L1904.0,1308.28 L1906.0,1308.89 L1908.0,1309.50 L1910.0,1310.11 L1912.0,1310.72 L1914.0,1311.33 L1916.0,1311.93 L1918.0,1312.53 L1920.0,1313.13 L1922.0,1313.73 L1924.0,1314.33 L1926.0,1314.92 L1928.0,1315.51 L1930.0,1316.11 L1932.0,1316.70 L1934.0,1317.28 L1936.0,1317.87 L1938.0,1318.45 L1940.0,1319.04 L1942.0,1319.62 L1944.0,1320.20 L1946.0,1320.78 L1948.0,1321.36 L1950.0,1321.94 L1952.0,1322.51 L1954.0,1323.09 L1956.0,1323.66 L1958.0,1324.23 L1960.0,1324.80 L1962.0,1325.37 L1964.0,1325.94 L1966.0,1326.51 L1968.0,1327.08 L1970.0,1327.65 L1972.0,1328.21" stroke-width="3.2"/>
<path d="M186.25,965.0 L190.52,901.0 L194.80,856.6 L199.07,812.3 L203.35,853.0 L207.62,893.7 L211.90,833.2 L216.17,772.7 L220.45,862.9 L224.72,812.3 L229.00,878.3 L233.27,839.2 L237.55,800.1 L241.82,862.3 L246.10,924.5 L250.37,816.0 L254.65,878.3 L258.92,876.0 L263.20,834.1 L267.47,840.0 L271.75,845.8 L276.02,900.1 L280.30,891.5 L284.57,893.6 L288.85,855.8 L293.12,888.1 L297.39,920.5 L301.67,859.3 L305.94,798.1 L310.22,896.0 L314.49,788.6 L318.77,843.9 L323.04,899.2 L327.32,834.4 L331.59,769.5 L335.87,860.5 L340.14,850.3 L344.42,840.1 L348.69,858.3 L352.97,838.0 L357.24,817.8 L361.52,903.5 L365.79,862.0 L370.07,848.1 L374.34,788.6 L378.62,796.1 L382.89,844.5 L387.17,843.8 L391.44,867.3 L395.72,802.4 L399.99,805.0 L404.26,828.4 L408.54,817.1 L412.81,823.1 L417.09,809.8 L421.36,796.4 L425.64,843.8 L429.91,775.7 L434.19,793.8 L438.46,811.9 L442.74,762.4 L447.01,824.2 L451.29,741.7 L455.56,771.0 L459.84,800.2 L464.11,829.5 L468.39,858.7 L472.66,840.2 L476.94,821.8 L481.21,878.3 L485.49,828.0 L489.76,777.6 L494.04,727.3 L498.31,767.6 L502.59,807.8 L506.86,848.1 L511.13,888.4 L515.41,811.5 L519.68,798.8 L523.96,715.3 L528.23,808.4 L532.51,779.5 L536.78,821.7 L541.06,793.4 L545.33,795.6 L549.61,892.7 L553.88,816.8 L558.16,789.3 L562.43,761.9 L566.71,734.4 L570.98,853.6 L575.26,773.3 L579.53,752.5 L583.81,731.8 L588.08,798.8 L592.36,805.3 L596.63,779.5 L600.91,753.6 L605.18,797.7 L609.46,834.5 L613.73,753.6 L618.00,795.9 L622.28,838.1 L626.55,780.2 L630.83,722.2 L635.10,767.5 L639.38,812.7 L643.65,782.0 L647.93,753.9 L652.20,818.3 L656.48,774.6 L660.75,782.1 L665.03,814.0 L669.30,826.2 L673.58,790.6 L677.85,751.2 L682.13,762.2 L686.40,773.1 L690.68,727.8 L694.95,797.0 L699.23,792.7 L703.50,797.5 L707.78,730.0 L712.05,718.8 L716.33,724.8 L720.60,687.8 L724.87,694.2 L729.15,700.7 L733.42,652.8 L737.70,647.5 L741.97,642.3 L746.25,637.0 L750.52,634.4 L754.80,599.1 L759.07,651.3 L763.35,576.4 L767.62,623.0 L771.90,669.7 L776.17,632.4 L780.45,595.0 L784.72,565.1 L789.00,609.5 L793.27,580.1 L797.55,542.3 L801.82,538.2 L806.10,563.1 L810.37,546.3 L814.65,616.2 L818.92,556.0 L823.20,495.6 L827.47,593.2 L831.74,696.5 L836.02,623.1 L840.29,640.6 L844.57,595.4 L848.84,705.0 L853.12,640.0 L857.39,575.5 L861.67,568.5 L865.94,644.9 L870.22,567.7 L874.49,659.1 L878.77,605.8 L883.04,679.0 L887.32,752.7 L891.59,708.2 L895.87,672.3 L900.14,779.3 L904.42,830.2 L908.69,736.0 L912.97,792.0 L917.24,846.5 L921.52,809.0 L925.79,770.5 L930.07,823.0 L934.34,881.9 L938.61,853.0 L942.89,826.1 L947.16,888.3 L951.44,841.6 L955.71,796.0 L959.99,823.0 L964.26,860.0 L968.54,886.0 L972.81,886.0 L977.09,963.1 L981.36,935.8 L985.64,908.5 L989.91,961.3 L994.19,915.6 L998.46,880.2 L1002.74,862.5 L1007.01,845.8 L1011.29,940.6 L1015.56,932.1 L1019.84,920.3 L1024.11,873.2 L1028.39,863.7 L1032.66,868.4 L1036.94,812.8 L1041.21,895.0 L1045.48,786.3 L1049.76,835.4 L1054.03,777.5 L1058.31,816.7 L1062.58,821.6 L1066.86,806.4 L1071.13,813.1 L1075.41,879.4 L1079.68,781.6 L1083.96,795.4 L1088.23,891.8 L1092.51,863.8 L1096.78,800.5 L1101.06,820.0 L1105.33,856.4 L1109.61,785.7 L1113.88,797.8 L1118.16,822.5 L1122.43,857.9 L1126.71,898.3 L1130.98,852.4 L1135.26,798.5 L1139.53,867.4 L1143.81,841.9 L1148.08,861.1 L1152.35,900.2 L1156.63,877.3 L1160.90,880.0 L1165.18,887.0 L1169.45,840.0 L1173.73,768.0 L1178.00,770.2 L1182.28,730.3 L1186.55,775.0 L1190.83,824.1 L1195.10,772.5 L1199.38,826.7 L1203.65,760.2 L1207.93,814.3 L1212.20,710.2 L1216.48,763.9 L1220.75,785.3 L1225.03,794.9 L1229.30,735.0 L1233.58,674.5 L1237.85,760.0 L1242.13,830.7 L1246.40,827.5 L1250.68,778.0 L1254.95,726.9 L1259.22,776.4 L1263.50,740.5 L1267.77,753.2 L1272.05,757.9 L1276.32,799.4 L1280.60,754.3 L1284.87,710.5 L1289.15,758.6 L1293.42,808.3 L1297.70,795.6 L1301.97,777.9 L1306.25,729.6 L1310.52,722.5 L1314.80,804.1 L1319.07,716.7 L1323.35,713.0 L1327.62,798.5 L1331.90,753.6 L1336.17,708.8 L1340.45,745.5 L1344.72,703.1 L1349.00,655.7 L1353.27,736.3 L1357.55,716.5 L1361.82,696.8 L1366.09,726.4 L1370.37,691.7 L1374.64,688.2 L1378.92,599.7 L1383.19,586.0 L1387.47,581.2 L1391.74,551.5 L1396.02,586.7 L1400.29,549.2 L1404.57,511.8 L1408.84,474.3 L1413.12,436.8 L1417.39,531.5 L1421.67,463.0 L1425.94,450.2 L1430.22,411.4 L1434.49,419.0 L1438.77,367.4 L1443.04,282.5 L1447.32,262.0 L1451.59,310.2 L1455.87,292.7 L1460.14,292.7 L1464.42,291.9 L1468.69,277.0 L1472.96,260.5 L1477.24,202.6 L1481.51,134.7 L1485.79,184.5 L1490.06,183.6 L1494.34,268.8 L1498.61,353.5 L1502.89,343.0 L1507.16,280.7 L1511.44,324.4 L1515.71,355.8 L1519.99,410.0 L1524.26,469.4 L1528.54,481.0 L1532.81,515.7 L1537.09,573.6 L1541.36,609.8 L1545.64,656.4 L1549.91,644.7 L1554.19,659.8 L1558.46,678.0 L1562.74,775.5 L1567.01,894.7 L1571.29,871.5 L1575.56,939.2 L1579.83,975.5 L1584.11,980.5 L1588.38,1034.3 L1592.66,1088.1 L1596.93,987.0 L1601.21,1060.8 L1605.48,1035.0 L1609.76,1016.7 L1614.03,1109.6 L1618.31,1097.8 L1622.58,1086.1 L1626.86,1142.0 L1631.13,1187.8 L1635.41,1055.7 L1639.68,1122.9 L1643.96,1074.8 L1648.23,1156.8 L1652.51,1088.1 L1656.78,1155.4 L1661.06,1215.8 L1665.33,1211.5 L1669.61,1264.5 L1673.88,1224.7 L1678.16,1184.9 L1682.43,1222.8 L1686.70,1260.8 L1690.98,1236.5 L1695.25,1207.0 L1699.53,1177.5 L1703.80,1155.0 L1708.08,1148.5 L1712.35,1215.8 L1716.63,1283.0 L1720.90,1170.5 L1725.18,1239.1 L1729.45,1202.6 L1733.73,1167.5 L1738.00,1231.5 L1742.28,1191.2 L1746.55,1140.3 L1750.83,1211.0 L1755.10,1186.0 L1759.38,1171.0 L1763.65,1205.5 L1767.93,1143.5 L1772.20,1163.7 L1776.48,1188.4 L1780.75,1259.3 L1785.03,1180.0 L1789.30,1125.3 L1793.57,1240.1 L1797.85,1220.0 L1802.12,1210.0 L1806.40,1203.1 L1810.67,1238.8 L1814.95,1274.5 L1819.22,1222.0 L1823.50,1220.7 L1827.77,1219.3 L1832.05,1231.2 L1836.32,1243.0 L1840.60,1214.5 L1844.87,1255.8 L1849.15,1258.2 L1853.42,1260.5 L1857.70,1226.5 L1861.97,1195.7 L1866.25,1151.0 L1870.52,1126.3 L1874.80,1100.4 L1879.07,1242.5 L1883.35,1202.5 L1887.62,1162.6 L1891.90,1122.6 L1896.17,1175.5 L1900.44,1178.7 L1904.72,1162.5 L1908.99,1202.2 L1913.27,1242.0 L1917.54,1211.9 L1921.82,1181.8 L1926.09,1151.7 L1930.37,1227.9 L1934.64,1304.1 L1938.92,1222.6 L1943.19,1251.8 L1947.47,1281.0 L1951.74,1310.2 L1956.02,1293.5 L1960.29,1357.8 L1964.57,1422.0 L1968.84,1349.2 L1973.12,1276.5" stroke-width="3.2" />
<line x1="542.3" y1="793.2" x2="681.8" y2="1187" stroke-width="5.2" stroke-linecap="butt"/>
<line x1="1229.8" y1="829.5" x2="771.2" y2="1189.6" stroke-width="5.2" stroke-linecap="butt"/>
</g>
<rect x="186.5" y="22.5" width="1923.5" height="1440" fill="none" stroke="#000" stroke-width="6.8" stroke-linejoin="round"/>
<g stroke="#000" stroke-width="6.6" stroke-linecap="round">
<line x1="229.0" y1="1462" x2="229.0" y2="1489.8"/>
<line x1="335.9" y1="1462" x2="335.9" y2="1476.3"/>
<line x1="442.7" y1="1462" x2="442.7" y2="1489.8"/>
<line x1="549.6" y1="1462" x2="549.6" y2="1476.3"/>
<line x1="656.5" y1="1462" x2="656.5" y2="1489.8"/>
<line x1="763.4" y1="1462" x2="763.4" y2="1476.3"/>
<line x1="870.2" y1="1462" x2="870.2" y2="1489.8"/>
<line x1="977.1" y1="1462" x2="977.1" y2="1476.3"/>
<line x1="1084.0" y1="1462" x2="1084.0" y2="1489.8"/>
<line x1="1190.8" y1="1462" x2="1190.8" y2="1476.3"/>
<line x1="1297.7" y1="1462" x2="1297.7" y2="1489.8"/>
<line x1="1404.6" y1="1462" x2="1404.6" y2="1476.3"/>
<line x1="1511.4" y1="1462" x2="1511.4" y2="1489.8"/>
<line x1="1618.3" y1="1462" x2="1618.3" y2="1476.3"/>
<line x1="1725.2" y1="1462" x2="1725.2" y2="1489.8"/>
<line x1="1832.0" y1="1462" x2="1832.0" y2="1476.3"/>
<line x1="1938.9" y1="1462" x2="1938.9" y2="1489.8"/>
<line x1="2045.8" y1="1462" x2="2045.8" y2="1476.3"/>
</g>
<g font-family="'Liberation Sans', Arial, Helvetica, sans-serif" fill="#000">
<g font-size="55.2" text-anchor="middle">
<text transform="translate(229.0,1553.0) scale(1,1.04)">810</text>
<text transform="translate(442.7,1553.0) scale(1,1.04)">805</text>
<text transform="translate(656.5,1553.0) scale(1,1.04)">800</text>
<text transform="translate(870.2,1553.0) scale(1,1.04)">795</text>
<text transform="translate(1084.0,1553.0) scale(1,1.04)">790</text>
<text transform="translate(1297.7,1553.0) scale(1,1.04)">785</text>
<text transform="translate(1511.4,1553.0) scale(1,1.04)">780</text>
<text transform="translate(1725.2,1553.0) scale(1,1.04)">775</text>
<text transform="translate(1938.9,1553.0) scale(1,1.04)">770</text>
</g>
<text transform="translate(845.6,1660.3) scale(1,1.045)" font-size="67.8">Binding Energy (eV)</text>
<text x="577" y="1264.4" font-size="68">satellites</text>
<text transform="translate(65.2,917) rotate(-90) scale(1,1.045)" font-size="68">Intensity (a.u.)</text>
</g>
</svg>
</body></html>
